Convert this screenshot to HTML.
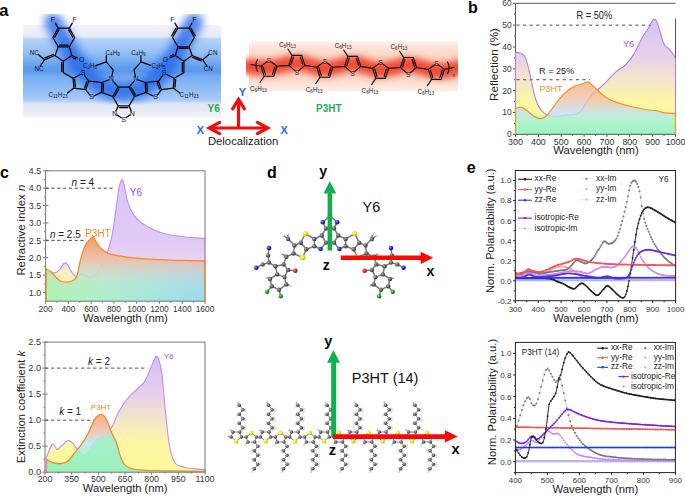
<!DOCTYPE html>
<html><head><meta charset="utf-8"><style>
html,body{margin:0;padding:0;background:#fff;width:685px;height:496px;overflow:hidden}
svg{display:block;font-family:"Liberation Sans",sans-serif}
</style></head><body>
<svg width="685" height="496" viewBox="0 0 685 496" font-family="Liberation Sans, sans-serif">
<defs>
<linearGradient id="y6band" x1="0" y1="25" x2="0" y2="118" gradientUnits="userSpaceOnUse">
<stop offset="0" stop-color="#f2f3fa"/>
<stop offset="0.129" stop-color="#e6eaf6"/>
<stop offset="0.15" stop-color="#b4d2f8"/>
<stop offset="0.27" stop-color="#9cc4f7"/>
<stop offset="0.37" stop-color="#7eb0f3"/>
<stop offset="0.45" stop-color="#629eef"/>
<stop offset="0.5" stop-color="#5a98ee"/>
<stop offset="0.56" stop-color="#78aef2"/>
<stop offset="0.7" stop-color="#92bef5"/>
<stop offset="0.806" stop-color="#a8caf7"/>
<stop offset="0.849" stop-color="#dfe6f5"/>
<stop offset="0.935" stop-color="#e8ebf5"/>
<stop offset="1" stop-color="#f6f6fb"/>
</linearGradient>
<linearGradient id="p3band" x1="0" y1="41.5" x2="0" y2="91.5" gradientUnits="userSpaceOnUse">
<stop offset="0" stop-color="#fdf0ea"/>
<stop offset="0.2" stop-color="#fbdccd"/>
<stop offset="0.5" stop-color="#f9c9b5"/>
<stop offset="0.8" stop-color="#fbdccd"/>
<stop offset="1" stop-color="#fdf0ea"/>
</linearGradient>
<filter id="blur6" filterUnits="userSpaceOnUse" x="0" y="0" width="250" height="140"><feGaussianBlur stdDeviation="4.2"/></filter>
<filter id="blur4" filterUnits="userSpaceOnUse" x="230" y="20" width="250" height="90"><feGaussianBlur stdDeviation="3.3"/></filter>
<clipPath id="y6clip"><rect x="23" y="14" width="198" height="90.5"/></clipPath>
<clipPath id="p3clip"><rect x="246" y="41.5" width="212" height="50"/></clipPath>
</defs>
<rect x="23" y="25" width="198" height="93" fill="url(#y6band)"/>
<g clip-path="url(#y6clip)"><path d="M53,22 C54.17,24 57.33,29.33 60,34 C62.67,38.67 65.83,44.83 69,50 C72.17,55.17 75.17,60.17 79,65 C82.83,69.83 87.33,75 92,79 C96.67,83 101.73,86.83 107,89 C112.27,91.17 118.07,92 123.6,92 C129.13,92 134.93,91.17 140.2,89 C145.47,86.83 150.53,83 155.2,79 C159.87,75 164.37,69.83 168.2,65 C172.03,60.17 175.03,55.17 178.2,50 C181.37,44.83 184.53,38.67 187.2,34 C189.87,29.33 193.03,24 194.2,22" fill="none" stroke="#2265ec" stroke-width="18" stroke-linecap="round" stroke-linejoin="round" opacity="0.8" filter="url(#blur6)"/></g>
<rect x="249" y="41.5" width="209" height="50" fill="url(#p3band)"/>
<g clip-path="url(#p3clip)"><path d="M244,66 C248.17,66.33 260.18,68.58 269,68 C277.82,67.42 287.6,62.35 296.9,62.53 C306.2,62.71 315.5,68.88 324.8,69.06 C334.1,69.24 343.4,63.41 352.7,63.59 C362,63.77 371.3,69.94 380.6,70.12 C389.9,70.3 399.2,64.47 408.5,64.65 C417.8,64.83 428.15,70.62 436.4,71.18 C444.65,71.74 454.4,68.53 458,68" fill="none" stroke="#f0402a" stroke-width="15" stroke-linecap="round" stroke-linejoin="round" opacity="0.92" filter="url(#blur4)"/></g>
<path d="M74.7,37.5L69.3,46.8M172.5,37.5L177.9,46.8M58.3,46.8L52.8,37.5M188.9,46.8L194.4,37.5M58.2,28.1L69.4,28.1M189,28.1L177.8,28.1M58.2,28.1L55.34,23.1M189,28.1L191.86,23.1M69.4,28.1L72.26,23.1M177.8,28.1L174.94,23.1M69.3,46.8L71.9,55.5M177.9,46.8L175.3,55.5M71.9,55.5L63.3,61.3M175.3,55.5L183.9,61.3M63.3,61.3L55,55.5M183.9,61.3L192.2,55.5M55,55.5L58.3,46.8M192.2,55.5L188.9,46.8M44.4,59.8L38.3,54.6M202.8,59.8L208.9,54.6M44.4,59.8L40.3,66M202.8,59.8L206.9,66M63.3,72.6L73.1,78.3M183.9,72.6L174.1,78.3M73.1,78.3L80.5,74.56M174.1,78.3L166.7,74.56M84.65,75.56L88.7,81.1M162.55,75.56L158.5,81.1M85.8,89.6L73.9,88.1M161.4,89.6L173.3,88.1M73.9,88.1L67.5,93.1M173.3,88.1L179.7,93.1M85.8,89.6L89.83,95.05M161.4,89.6L157.37,95.05M94.01,96.06L101.4,92.4M153.19,96.06L145.8,92.4M102,82.5L88.7,81.1M145.2,82.5L158.5,81.1M101.4,92.4L112.7,96.5M145.8,92.4L134.5,96.5M118.15,87.1L113.02,81.12M129.05,87.1L134.18,81.12M108.58,80L102,82.5M138.62,80L145.2,82.5M112.7,96.5L118.15,105.9M134.5,96.5L129.05,105.9M118.15,105.9L115.93,110.94M129.05,105.9L131.27,110.94M117.15,115.02L121.25,117.68M130.05,115.02L125.95,117.68M111.79,76.26L113.2,69.8M135.41,76.26L134,69.8M113.2,69.8L106.3,61.8M134,69.8L140.9,61.8M106.3,61.8L96.5,65.4M140.9,61.8L150.7,65.4M106.3,61.8L106.3,55.6M140.9,61.8L140.9,55.6M69.3,46.8L58.3,46.8M68.1,45.2L59.5,45.2M177.9,46.8L188.9,46.8M179.1,48.4L187.7,48.4M52.8,37.5L58.2,28.1M54.79,37.26L58.99,29.94M194.4,37.5L189,28.1M195.19,35.66L190.99,28.34M69.4,28.1L74.7,37.5M68.6,29.93L72.72,37.24M177.8,28.1L172.5,37.5M175.82,28.36L171.7,35.67M71.9,55.5L77.23,57.92M72.33,57.45L75.48,58.88M175.3,55.5L169.97,57.92M173.55,54.54L170.4,55.97M55,55.5L44.4,59.8M53.29,54.47L44.91,57.87M192.2,55.5L202.8,59.8M192.71,57.43L201.09,60.83M63.3,61.3L63.3,72.6M61.7,62.5L61.7,71.4M183.9,61.3L183.9,72.6M182.3,62.5L182.3,71.4M88.7,81.1L85.8,89.6M86.8,81.72L84.67,87.95M158.5,81.1L161.4,89.6M157.37,82.75L159.5,88.98M73.9,88.1L73.1,78.3M75.4,86.77L74.79,79.37M173.3,88.1L174.1,78.3M174.99,87.03L175.6,79.63M101.4,92.4L102,82.5M103.07,91.3L103.52,83.79M145.8,92.4L145.2,82.5M147.32,91.11L146.87,83.6M112.7,96.5L118.15,87.1M114.69,96.26L118.93,88.94M134.5,96.5L129.05,87.1M135.28,94.66L131.04,87.34M118.15,87.1L129.05,87.1M118.15,105.9L129.05,105.9M119.35,107.5L127.85,107.5" stroke="#050505" stroke-width="1.25" fill="none" stroke-linecap="round"/>
<g fill="#111"><text x="52.8" y="22" font-size="7" text-anchor="middle">F</text><text x="74.7" y="22" font-size="7" text-anchor="middle">F</text><text x="194.4" y="22" font-size="7" text-anchor="middle">F</text><text x="172.5" y="22" font-size="7" text-anchor="middle">F</text><text x="81.8" y="62" font-size="7" text-anchor="middle">O</text><text x="165.4" y="62" font-size="7" text-anchor="middle">O</text><text x="83.2" y="75.2" font-size="7" text-anchor="middle">S</text><text x="164" y="75.2" font-size="7" text-anchor="middle">S</text><text x="91.6" y="99.4" font-size="7" text-anchor="middle">S</text><text x="155.6" y="99.4" font-size="7" text-anchor="middle">S</text><text x="111.2" y="81.2" font-size="7" text-anchor="middle">N</text><text x="136" y="81.2" font-size="7" text-anchor="middle">N</text><text x="114.8" y="115.7" font-size="7" text-anchor="middle">N</text><text x="132.4" y="115.7" font-size="7" text-anchor="middle">N</text><text x="123.6" y="121.6" font-size="7" text-anchor="middle">S</text><text x="34.3" y="55" font-size="6.3" text-anchor="middle">NC</text><text x="39" y="71" font-size="6.3" text-anchor="middle">NC</text><text x="212.9" y="55" font-size="6.3" text-anchor="middle">CN</text><text x="208.2" y="71" font-size="6.3" text-anchor="middle">CN</text><text x="48.5" y="97" font-size="6.3">C<tspan font-size="4.6" dy="1">11</tspan><tspan dy="-1">H</tspan><tspan font-size="4.6" dy="1">23</tspan></text><text x="179.6" y="97" font-size="6.3">C<tspan font-size="4.6" dy="1">11</tspan><tspan dy="-1">H</tspan><tspan font-size="4.6" dy="1">23</tspan></text><text x="82.9" y="67.8" font-size="6.3">C<tspan font-size="4.6" dy="1">2</tspan><tspan dy="-1">H</tspan><tspan font-size="4.6" dy="1">5</tspan></text><text x="151.4" y="67.8" font-size="6.3">C<tspan font-size="4.6" dy="1">2</tspan><tspan dy="-1">H</tspan><tspan font-size="4.6" dy="1">5</tspan></text><text x="105.5" y="55" font-size="6.3">C<tspan font-size="4.6" dy="1">4</tspan><tspan dy="-1">H</tspan><tspan font-size="4.6" dy="1">9</tspan></text><text x="131.3" y="55" font-size="6.3">C<tspan font-size="4.6" dy="1">4</tspan><tspan dy="-1">H</tspan><tspan font-size="4.6" dy="1">9</tspan></text></g>
<path d="M267.24,61.52L261,66.2M261,66.2L264.2,76.2M264.2,76.2L273.8,76.2M273.8,76.2L277,66.2M277,66.2L270.76,61.52M263.06,66.9L265.47,74.43M272.53,74.43L274.94,66.9M264.2,76.2L260,82.5M295.24,70.88L288.9,65.33M288.9,65.33L292.1,55.33M292.1,55.33L301.7,55.33M301.7,55.33L304.9,65.33M304.9,65.33L298.56,70.88M290.96,64.63L293.37,57.1M300.43,57.1L302.84,64.63M292.1,55.33L287.9,49.03M323.04,62.58L316.8,67.26M316.8,67.26L320,77.26M320,77.26L329.6,77.26M329.6,77.26L332.8,67.26M332.8,67.26L326.56,62.58M318.86,67.96L321.27,75.49M328.33,75.49L330.74,67.96M320,77.26L315.8,83.56M351.04,71.94L344.7,66.39M344.7,66.39L347.9,56.39M347.9,56.39L357.5,56.39M357.5,56.39L360.7,66.39M360.7,66.39L354.36,71.94M346.76,65.69L349.17,58.16M356.23,58.16L358.64,65.69M347.9,56.39L343.7,50.09M378.84,63.64L372.6,68.32M372.6,68.32L375.8,78.32M375.8,78.32L385.4,78.32M385.4,78.32L388.6,68.32M388.6,68.32L382.36,63.64M374.66,69.03L377.07,76.55M384.13,76.55L386.54,69.03M375.8,78.32L371.6,84.62M406.84,73L400.5,67.45M400.5,67.45L403.7,57.45M403.7,57.45L413.3,57.45M413.3,57.45L416.5,67.45M416.5,67.45L410.16,73M402.56,66.75L404.97,59.22M412.03,59.22L414.44,66.75M403.7,57.45L399.5,51.15M434.64,64.7L428.4,69.38M428.4,69.38L431.6,79.38M431.6,79.38L441.2,79.38M441.2,79.38L444.4,69.38M444.4,69.38L438.16,64.7M430.46,70.09L432.87,77.61M439.93,77.61L442.34,70.09M431.6,79.38L427.4,85.68M277,66.2L288.9,65.33M304.9,65.33L316.8,67.26M332.8,67.26L344.7,66.39M360.7,66.39L372.6,68.32M388.6,68.32L400.5,67.45M416.5,67.45L428.4,69.38M261,66.2L251,64.5M444.4,69.38L454,67.5M257.5,59.5 Q254.2,65.3 257.5,71.2M447.5,62 Q450.8,67.8 447.5,73.6" stroke="#111" stroke-width="1.15" fill="none" stroke-linecap="round"/>
<g fill="#222"><text x="269" y="62.6" font-size="6.4" text-anchor="middle">S</text><text x="250" y="91" font-size="6.3">C<tspan font-size="4.6" dy="1">6</tspan><tspan dy="-1">H</tspan><tspan font-size="4.6" dy="1">13</tspan></text><text x="296.9" y="74.73" font-size="6.4" text-anchor="middle">S</text><text x="278.9" y="47.03" font-size="6.3">C<tspan font-size="4.6" dy="1">6</tspan><tspan dy="-1">H</tspan><tspan font-size="4.6" dy="1">13</tspan></text><text x="324.8" y="63.66" font-size="6.4" text-anchor="middle">S</text><text x="305.8" y="92.06" font-size="6.3">C<tspan font-size="4.6" dy="1">6</tspan><tspan dy="-1">H</tspan><tspan font-size="4.6" dy="1">13</tspan></text><text x="352.7" y="75.79" font-size="6.4" text-anchor="middle">S</text><text x="334.7" y="48.09" font-size="6.3">C<tspan font-size="4.6" dy="1">6</tspan><tspan dy="-1">H</tspan><tspan font-size="4.6" dy="1">13</tspan></text><text x="380.6" y="64.72" font-size="6.4" text-anchor="middle">S</text><text x="361.6" y="93.12" font-size="6.3">C<tspan font-size="4.6" dy="1">6</tspan><tspan dy="-1">H</tspan><tspan font-size="4.6" dy="1">13</tspan></text><text x="408.5" y="76.85" font-size="6.4" text-anchor="middle">S</text><text x="390.5" y="49.15" font-size="6.3">C<tspan font-size="4.6" dy="1">6</tspan><tspan dy="-1">H</tspan><tspan font-size="4.6" dy="1">13</tspan></text><text x="436.4" y="65.78" font-size="6.4" text-anchor="middle">S</text><text x="417.4" y="94.18" font-size="6.3">C<tspan font-size="4.6" dy="1">6</tspan><tspan dy="-1">H</tspan><tspan font-size="4.6" dy="1">13</tspan></text><text x="452.5" y="76.5" font-size="4.5">n</text></g>
<path d="M238.5,128 L238.5,100" stroke="#f20d0d" stroke-width="3.2" fill="none"/>
<path d="M232.6,108.8 L238.5,99.2 L244.4,108.8" stroke="#f20d0d" stroke-width="3.2" fill="none" stroke-linecap="round" stroke-linejoin="miter"/>
<path d="M209.5,128 L267.5,128" stroke="#f20d0d" stroke-width="3.2" fill="none"/>
<path d="M219.6,122.4 L209.2,128 L219.6,133.6" stroke="#f20d0d" stroke-width="3.2" fill="none" stroke-linecap="round"/>
<path d="M257.4,122.4 L267.8,128 L257.4,133.6" stroke="#f20d0d" stroke-width="3.2" fill="none" stroke-linecap="round"/>
<g font-weight="bold" fill="#1a6cf5" font-size="10.9"><text x="242.4" y="95.6" text-anchor="middle">Y</text><text x="200.4" y="134.2" text-anchor="middle">X</text><text x="284.2" y="134.2" text-anchor="middle">X</text></g>
<text x="243.1" y="145" font-size="11.3" text-anchor="middle" fill="#222">Delocalization</text>
<g font-weight="bold" fill="#1fae4e" font-size="10"><text x="213.6" y="111.5" text-anchor="middle">Y6</text><text x="328.8" y="111.5" text-anchor="middle">P3HT</text></g>
<text x="-0.8" y="15.6" font-size="16.6" font-weight="bold">a</text>
<defs>
<linearGradient id="bY6" x1="0" y1="20" x2="0" y2="134.3" gradientUnits="userSpaceOnUse">
<stop offset="0" stop-color="#d8c2f4"/><stop offset="0.3" stop-color="#e4d0ee"/><stop offset="0.55" stop-color="#f6e8c8"/>
<stop offset="0.7" stop-color="#fff5a6"/><stop offset="0.8" stop-color="#fcf8a2"/><stop offset="0.9" stop-color="#b4f4c4"/><stop offset="1" stop-color="#98f4c0"/></linearGradient>
<linearGradient id="bP3" x1="0" y1="82" x2="0" y2="134.3" gradientUnits="userSpaceOnUse">
<stop offset="0" stop-color="#f6ad80"/><stop offset="0.3" stop-color="#f0c0a8"/><stop offset="0.6" stop-color="#bfe2f2"/>
<stop offset="0.72" stop-color="#b0f2d4"/><stop offset="1" stop-color="#9af5c0"/></linearGradient>
</defs>
<path d="M515.5,52.22 C516.46,52.45 519.62,52.69 521.29,53.63 C522.96,54.57 524.11,54.57 525.52,57.86 C526.93,61.15 528.35,67.5 529.76,73.38 C531.17,79.26 532.58,87.73 533.99,93.14 C535.4,98.55 536.58,102.55 538.22,105.84 C539.87,109.14 541.99,111.25 543.87,112.9 C545.75,114.55 547.4,115.16 549.51,115.72 C551.63,116.29 553.75,116.38 556.57,116.29 C559.39,116.19 563.39,115.49 566.45,115.16 C569.51,114.83 572.56,114.92 574.92,114.31 C577.27,113.7 578.68,113.37 580.56,111.49 C582.44,109.61 584.32,105.84 586.21,103.02 C588.09,100.2 589.5,97.14 591.85,94.55 C594.2,91.97 597.5,90.08 600.32,87.5 C603.14,84.91 605.96,81.85 608.79,79.03 C611.61,76.21 614.43,72.91 617.25,70.56 C620.08,68.21 622.9,67.74 625.72,64.92 C628.54,62.09 631.37,58.33 634.19,53.63 C637.01,48.92 640.3,40.93 642.66,36.69 C645.01,32.46 646.65,30.95 648.3,28.22 C649.95,25.5 651.36,21.73 652.53,20.32 C653.71,18.91 654.42,18.91 655.36,19.76 C656.3,20.6 656.77,21.4 658.18,25.4 C659.59,29.4 661.94,39.75 663.82,43.75 C665.71,47.75 667.52,47.04 669.47,49.39 C671.42,51.75 674.49,56.45 675.5,57.86 L675.5,134.3 L515.5,134.3 Z" fill="url(#bY6)"/>
<path d="M516.5,25.13H651 M516.5,79.72H590" stroke="#444" stroke-width="0.95" stroke-dasharray="3.1,3.5" fill="none"/>
<path d="M515.5,52.22 C516.46,52.45 519.62,52.69 521.29,53.63 C522.96,54.57 524.11,54.57 525.52,57.86 C526.93,61.15 528.35,67.5 529.76,73.38 C531.17,79.26 532.58,87.73 533.99,93.14 C535.4,98.55 536.58,102.55 538.22,105.84 C539.87,109.14 541.99,111.25 543.87,112.9 C545.75,114.55 547.4,115.16 549.51,115.72 C551.63,116.29 553.75,116.38 556.57,116.29 C559.39,116.19 563.39,115.49 566.45,115.16 C569.51,114.83 572.56,114.92 574.92,114.31 C577.27,113.7 578.68,113.37 580.56,111.49 C582.44,109.61 584.32,105.84 586.21,103.02 C588.09,100.2 589.5,97.14 591.85,94.55 C594.2,91.97 597.5,90.08 600.32,87.5 C603.14,84.91 605.96,81.85 608.79,79.03 C611.61,76.21 614.43,72.91 617.25,70.56 C620.08,68.21 622.9,67.74 625.72,64.92 C628.54,62.09 631.37,58.33 634.19,53.63 C637.01,48.92 640.3,40.93 642.66,36.69 C645.01,32.46 646.65,30.95 648.3,28.22 C649.95,25.5 651.36,21.73 652.53,20.32 C653.71,18.91 654.42,18.91 655.36,19.76 C656.3,20.6 656.77,21.4 658.18,25.4 C659.59,29.4 661.94,39.75 663.82,43.75 C665.71,47.75 667.52,47.04 669.47,49.39 C671.42,51.75 674.49,56.45 675.5,57.86" stroke="#b07ee6" stroke-width="1.1" fill="none"/>
<path d="M515.5,108.66 C516.23,108.43 518.44,107.25 519.88,107.25 C521.31,107.25 522.47,107.72 524.11,108.66 C525.76,109.61 527.88,111.49 529.76,112.9 C531.64,114.31 533.52,116.19 535.4,117.13 C537.28,118.07 539.17,118.78 541.05,118.54 C542.93,118.31 544.81,117.37 546.69,115.72 C548.57,114.07 550.22,111.49 552.34,108.66 C554.45,105.84 557.04,101.61 559.39,98.79 C561.75,95.96 563.86,93.85 566.45,91.73 C569.04,89.61 572.33,87.36 574.92,86.09 C577.5,84.82 579.86,84.82 581.97,84.11 C584.09,83.4 585.97,81.76 587.62,81.85 C589.26,81.95 590.21,83.26 591.85,84.67 C593.5,86.09 595.14,88.2 597.5,90.32 C599.85,92.44 603.14,95.49 605.96,97.38 C608.79,99.26 611.61,100.43 614.43,101.61 C617.25,102.78 619.61,103.49 622.9,104.43 C626.19,105.37 630.43,106.41 634.19,107.25 C637.95,108.1 641.72,108.9 645.48,109.51 C649.24,110.12 653.48,110.36 656.77,110.92 C660.06,111.49 662.11,112.48 665.24,112.9 C668.36,113.32 673.79,113.37 675.5,113.46 L675.5,134.3 L515.5,134.3 Z" fill="url(#bP3)" opacity="0.8"/>
<path d="M515.5,108.66 C516.23,108.43 518.44,107.25 519.88,107.25 C521.31,107.25 522.47,107.72 524.11,108.66 C525.76,109.61 527.88,111.49 529.76,112.9 C531.64,114.31 533.52,116.19 535.4,117.13 C537.28,118.07 539.17,118.78 541.05,118.54 C542.93,118.31 544.81,117.37 546.69,115.72 C548.57,114.07 550.22,111.49 552.34,108.66 C554.45,105.84 557.04,101.61 559.39,98.79 C561.75,95.96 563.86,93.85 566.45,91.73 C569.04,89.61 572.33,87.36 574.92,86.09 C577.5,84.82 579.86,84.82 581.97,84.11 C584.09,83.4 585.97,81.76 587.62,81.85 C589.26,81.95 590.21,83.26 591.85,84.67 C593.5,86.09 595.14,88.2 597.5,90.32 C599.85,92.44 603.14,95.49 605.96,97.38 C608.79,99.26 611.61,100.43 614.43,101.61 C617.25,102.78 619.61,103.49 622.9,104.43 C626.19,105.37 630.43,106.41 634.19,107.25 C637.95,108.1 641.72,108.9 645.48,109.51 C649.24,110.12 653.48,110.36 656.77,110.92 C660.06,111.49 662.11,112.48 665.24,112.9 C668.36,113.32 673.79,113.37 675.5,113.46" stroke="#f59022" stroke-width="1.2" fill="none"/>
<path d="M515.5,134.3v2.6M538.36,134.3v2.6M561.21,134.3v2.6M584.07,134.3v2.6M606.93,134.3v2.6M629.79,134.3v2.6M652.64,134.3v2.6M675.5,134.3v2.6M526.93,134.3v1.5M549.79,134.3v1.5M572.64,134.3v1.5M595.5,134.3v1.5M618.36,134.3v1.5M641.21,134.3v1.5M664.07,134.3v1.5M515.5,134.3h-2.6M515.5,112.47h-2.6M515.5,90.63h-2.6M515.5,68.8h-2.6M515.5,46.97h-2.6M515.5,25.13h-2.6M515.5,3.3h-2.6M515.5,123.38h-1.5M515.5,101.55h-1.5M515.5,79.72h-1.5M515.5,57.88h-1.5M515.5,36.05h-1.5M515.5,14.22h-1.5" stroke="#555" stroke-width="1" fill="none"/>
<g font-size="8.9" fill="#333"><text x="515.5" y="145.1" text-anchor="middle">300</text><text x="538.36" y="145.1" text-anchor="middle">400</text><text x="561.21" y="145.1" text-anchor="middle">500</text><text x="584.07" y="145.1" text-anchor="middle">600</text><text x="606.93" y="145.1" text-anchor="middle">700</text><text x="629.79" y="145.1" text-anchor="middle">800</text><text x="652.64" y="145.1" text-anchor="middle">900</text><text x="675.5" y="145.1" text-anchor="middle">1000</text></g>
<g font-size="8.4" fill="#333"><text x="511.6" y="137.31" text-anchor="end">0</text><text x="511.6" y="115.47" text-anchor="end">10</text><text x="511.6" y="93.64" text-anchor="end">20</text><text x="511.6" y="71.81" text-anchor="end">30</text><text x="511.6" y="49.97" text-anchor="end">40</text><text x="511.6" y="28.14" text-anchor="end">50</text><text x="511.6" y="6.31" text-anchor="end">60</text></g>
<path d="M515.5,134.3V3.3H675.5 M515.5,134.3H675.5 M675.5,18.5V57.86" stroke="#555" stroke-width="1" fill="none"/>
<path d="M515.5,52.22V108.66 M675.5,57.86V113.46" stroke="#b07ee6" stroke-width="1.1"/>
<path d="M515.5,108.66V134.3 M675.5,113.46V134.3" stroke="#f59022" stroke-width="1.2"/>
<text x="596" y="153.8" font-size="11.3" text-anchor="middle" fill="#222">Wavelength (nm)</text>
<text transform="translate(497.8,64.5) rotate(-90)" font-size="11.6" text-anchor="middle" fill="#222">Reflection (%)</text>
<text x="576.6" y="18.9" font-size="10" fill="#222" textLength="35.6" lengthAdjust="spacingAndGlyphs">R = 50%</text>
<text x="539.1" y="74" font-size="9.8" fill="#222" textLength="35.2" lengthAdjust="spacingAndGlyphs">R = 25%</text>
<text x="539.4" y="91.5" font-size="9.1" fill="#f7941d">P3HT</text>
<text x="622.9" y="46.6" font-size="9.3" fill="#9a4fe6">Y6</text>
<text x="468" y="12.9" font-size="16" font-weight="bold">b</text>
<defs>
<linearGradient id="cY6" x1="0" y1="180" x2="0" y2="301" gradientUnits="userSpaceOnUse">
<stop offset="0" stop-color="#dcc4f8"/><stop offset="0.5" stop-color="#e0caf6"/><stop offset="0.68" stop-color="#ecd4ee"/><stop offset="0.76" stop-color="#faf0c0"/><stop offset="1" stop-color="#f6f2b4"/></linearGradient>
<linearGradient id="cP3v" x1="0" y1="237" x2="0" y2="301" gradientUnits="userSpaceOnUse">
<stop offset="0" stop-color="#f59a62" stop-opacity="1"/><stop offset="0.35" stop-color="#f3bca8" stop-opacity="0.9"/><stop offset="0.65" stop-color="#eecfd0" stop-opacity="0.3"/><stop offset="1" stop-color="#e0e0e0" stop-opacity="0"/></linearGradient>
<linearGradient id="cP3h" x1="45" y1="0" x2="204" y2="0" gradientUnits="userSpaceOnUse">
<stop offset="0" stop-color="#9cf7a8"/><stop offset="0.35" stop-color="#a0f0d0"/><stop offset="1" stop-color="#88d8fa"/></linearGradient>
<clipPath id="cclip"><rect x="45.6" y="170" width="158.4" height="131.2"/></clipPath>
</defs>
<path d="M45.6,301.2v-2.8M68.37,301.2v-2.8M91.14,301.2v-2.8M113.91,301.2v-2.8M136.69,301.2v-2.8M159.46,301.2v-2.8M182.23,301.2v-2.8M205,301.2v-2.8M45.6,292.51h2.8M45.6,275.12h2.8M45.6,257.73h2.8M45.6,240.35h2.8M45.6,222.96h2.8M45.6,205.57h2.8M45.6,188.19h2.8M45.6,170.8h2.8" stroke="#777" stroke-width="1" fill="none"/>
<path d="M46.1,276.55 C46.5,276.08 47.61,274.53 48.47,273.73 C49.34,272.93 50.12,271.89 51.3,271.75 C52.47,271.61 54.12,273.26 55.53,272.88 C56.94,272.5 58.36,271.09 59.77,269.49 C61.18,267.89 62.83,264.22 64,263.28 C65.18,262.34 65.65,262.57 66.83,263.84 C68.01,265.11 69.65,268.88 71.06,270.9 C72.48,272.93 73.89,275.28 75.3,275.99 C76.71,276.69 78.36,275.51 79.54,275.14 C80.71,274.76 81.18,273.59 82.36,273.73 C83.54,273.87 85.18,275.28 86.6,275.99 C88.01,276.69 89.42,278.1 90.83,277.96 C92.25,277.82 93.42,277.02 95.07,275.14 C96.72,273.26 98.83,269.96 100.72,266.67 C102.6,263.37 104.48,260.55 106.37,255.37 C108.25,250.19 110.37,243.6 112.01,235.6 C113.66,227.6 115.07,215.36 116.25,207.36 C117.43,199.36 118.13,192.21 119.07,187.59 C120.02,182.98 121.05,180.16 121.9,179.69 C122.74,179.21 123.22,181.1 124.16,184.77 C125.1,188.44 126.04,196.77 127.55,201.71 C129.05,206.65 130.84,210.89 133.19,214.42 C135.55,217.95 138.37,220.4 141.67,222.89 C144.96,225.39 148.73,227.51 152.96,229.39 C157.2,231.27 162.38,233.01 167.08,234.19 C171.79,235.37 176.5,235.84 181.2,236.45 C185.91,237.06 191.36,237.53 195.32,237.86 C199.29,238.19 203.39,238.33 205,238.43 L205,301.2 L46.1,301.2 Z" fill="url(#cY6)"/>
<path d="M45.6,188.19H115 M45.6,240.35H86" stroke="#333" stroke-width="0.9" stroke-dasharray="3.2,2.6" fill="none"/>
<path d="M46.1,276.55 C46.5,276.08 47.61,274.53 48.47,273.73 C49.34,272.93 50.12,271.89 51.3,271.75 C52.47,271.61 54.12,273.26 55.53,272.88 C56.94,272.5 58.36,271.09 59.77,269.49 C61.18,267.89 62.83,264.22 64,263.28 C65.18,262.34 65.65,262.57 66.83,263.84 C68.01,265.11 69.65,268.88 71.06,270.9 C72.48,272.93 73.89,275.28 75.3,275.99 C76.71,276.69 78.36,275.51 79.54,275.14 C80.71,274.76 81.18,273.59 82.36,273.73 C83.54,273.87 85.18,275.28 86.6,275.99 C88.01,276.69 89.42,278.1 90.83,277.96 C92.25,277.82 93.42,277.02 95.07,275.14 C96.72,273.26 98.83,269.96 100.72,266.67 C102.6,263.37 104.48,260.55 106.37,255.37 C108.25,250.19 110.37,243.6 112.01,235.6 C113.66,227.6 115.07,215.36 116.25,207.36 C117.43,199.36 118.13,192.21 119.07,187.59 C120.02,182.98 121.05,180.16 121.9,179.69 C122.74,179.21 123.22,181.1 124.16,184.77 C125.1,188.44 126.04,196.77 127.55,201.71 C129.05,206.65 130.84,210.89 133.19,214.42 C135.55,217.95 138.37,220.4 141.67,222.89 C144.96,225.39 148.73,227.51 152.96,229.39 C157.2,231.27 162.38,233.01 167.08,234.19 C171.79,235.37 176.5,235.84 181.2,236.45 C185.91,237.06 191.36,237.53 195.32,237.86 C199.29,238.19 203.39,238.33 205,238.43" stroke="#c08ef0" stroke-width="1.1" fill="none"/>
<path d="M46.1,268.93 C46.73,269.25 48.55,269.87 49.88,270.9 C51.22,271.94 52.47,273.49 54.12,275.14 C55.77,276.79 57.65,279.61 59.77,280.79 C61.89,281.96 64.71,282.2 66.83,282.2 C68.95,282.2 70.83,281.73 72.48,280.79 C74.12,279.85 75.3,280.32 76.71,276.55 C78.12,272.78 79.54,263.37 80.95,258.19 C82.36,253.02 83.77,248.55 85.18,245.49 C86.6,242.43 88.1,241.25 89.42,239.84 C90.74,238.43 91.92,236.54 93.09,237.01 C94.27,237.48 95.21,240.78 96.48,242.66 C97.75,244.54 98.83,246.57 100.72,248.31 C102.6,250.05 104.72,251.84 107.78,253.11 C110.84,254.38 114.37,255.09 119.07,255.93 C123.78,256.78 129.43,257.58 136.02,258.19 C142.61,258.81 151.08,259.23 158.61,259.61 C166.14,259.98 173.47,260.22 181.2,260.45 C188.93,260.69 201.03,260.92 205,261.02 L205,301.2 L46.1,301.2 Z" fill="url(#cP3h)" opacity="0.85"/>
<path d="M46.1,268.93 C46.73,269.25 48.55,269.87 49.88,270.9 C51.22,271.94 52.47,273.49 54.12,275.14 C55.77,276.79 57.65,279.61 59.77,280.79 C61.89,281.96 64.71,282.2 66.83,282.2 C68.95,282.2 70.83,281.73 72.48,280.79 C74.12,279.85 75.3,280.32 76.71,276.55 C78.12,272.78 79.54,263.37 80.95,258.19 C82.36,253.02 83.77,248.55 85.18,245.49 C86.6,242.43 88.1,241.25 89.42,239.84 C90.74,238.43 91.92,236.54 93.09,237.01 C94.27,237.48 95.21,240.78 96.48,242.66 C97.75,244.54 98.83,246.57 100.72,248.31 C102.6,250.05 104.72,251.84 107.78,253.11 C110.84,254.38 114.37,255.09 119.07,255.93 C123.78,256.78 129.43,257.58 136.02,258.19 C142.61,258.81 151.08,259.23 158.61,259.61 C166.14,259.98 173.47,260.22 181.2,260.45 C188.93,260.69 201.03,260.92 205,261.02 L205,301.2 L46.1,301.2 Z" fill="url(#cP3v)"/>
<path d="M46.1,268.93 C46.73,269.25 48.55,269.87 49.88,270.9 C51.22,271.94 52.47,273.49 54.12,275.14 C55.77,276.79 57.65,279.61 59.77,280.79 C61.89,281.96 64.71,282.2 66.83,282.2 C68.95,282.2 70.83,281.73 72.48,280.79 C74.12,279.85 75.3,280.32 76.71,276.55 C78.12,272.78 79.54,263.37 80.95,258.19 C82.36,253.02 83.77,248.55 85.18,245.49 C86.6,242.43 88.1,241.25 89.42,239.84 C90.74,238.43 91.92,236.54 93.09,237.01 C94.27,237.48 95.21,240.78 96.48,242.66 C97.75,244.54 98.83,246.57 100.72,248.31 C102.6,250.05 104.72,251.84 107.78,253.11 C110.84,254.38 114.37,255.09 119.07,255.93 C123.78,256.78 129.43,257.58 136.02,258.19 C142.61,258.81 151.08,259.23 158.61,259.61 C166.14,259.98 173.47,260.22 181.2,260.45 C188.93,260.69 201.03,260.92 205,261.02" stroke="#f58a2a" stroke-width="1.3" fill="none"/>
<rect x="45.6" y="170.8" width="159.4" height="130.4" fill="none" stroke="#777" stroke-width="1"/>
<path d="M45.6,301.2v2.6M68.37,301.2v2.6M91.14,301.2v2.6M113.91,301.2v2.6M136.69,301.2v2.6M159.46,301.2v2.6M182.23,301.2v2.6M205,301.2v2.6M56.99,301.2v1.5M79.76,301.2v1.5M102.53,301.2v1.5M125.3,301.2v1.5M148.07,301.2v1.5M170.84,301.2v1.5M193.61,301.2v1.5M45.6,292.51h-2.6M45.6,275.12h-2.6M45.6,257.73h-2.6M45.6,240.35h-2.6M45.6,222.96h-2.6M45.6,205.57h-2.6M45.6,188.19h-2.6M45.6,170.8h-2.6M45.6,283.81h-1.5M45.6,266.43h-1.5M45.6,249.04h-1.5M45.6,231.65h-1.5M45.6,214.27h-1.5M45.6,196.88h-1.5M45.6,179.49h-1.5" stroke="#777" stroke-width="1" fill="none"/>
<g font-size="8.4" fill="#333"><text x="45.6" y="311.6" text-anchor="middle">200</text><text x="68.37" y="311.6" text-anchor="middle">400</text><text x="91.14" y="311.6" text-anchor="middle">600</text><text x="113.91" y="311.6" text-anchor="middle">800</text><text x="136.69" y="311.6" text-anchor="middle">1000</text><text x="159.46" y="311.6" text-anchor="middle">1200</text><text x="182.23" y="311.6" text-anchor="middle">1400</text><text x="205" y="311.6" text-anchor="middle">1600</text></g>
<g font-size="8.9" fill="#333"><text x="41.2" y="295.69" text-anchor="end">1.0</text><text x="41.2" y="278.31" text-anchor="end">1.5</text><text x="41.2" y="260.92" text-anchor="end">2.0</text><text x="41.2" y="243.53" text-anchor="end">2.5</text><text x="41.2" y="226.15" text-anchor="end">3.0</text><text x="41.2" y="208.76" text-anchor="end">3.5</text><text x="41.2" y="191.37" text-anchor="end">4.0</text><text x="41.2" y="173.99" text-anchor="end">4.5</text></g>
<path d="M46.1,268.93V301.2" stroke="#f58a2a" stroke-width="1.2"/>
<path d="M205,238.43V261.02" stroke="#c08ef0" stroke-width="1.1"/>
<path d="M205,261.02V301.2" stroke="#f58a2a" stroke-width="1.2"/>
<text x="125.4" y="322" font-size="11.2" text-anchor="middle" fill="#222">Wavelength (nm)</text>
<text transform="translate(25.4,230.2) rotate(-90)" font-size="11.35" text-anchor="middle" fill="#222">Refractive index <tspan font-style="italic">n</tspan></text>
<text x="71.6" y="185.8" font-size="10" fill="#222"><tspan font-style="italic">n</tspan> = 4</text>
<text x="49.9" y="237.6" font-size="10" fill="#222"><tspan font-style="italic">n</tspan> = 2.5</text>
<text x="85.2" y="237.2" font-size="10" fill="#f58a2a">P3HT</text>
<text x="129.8" y="196" font-size="10" fill="#9a4fe6">Y6</text>
<text x="0" y="177.8" font-size="16" font-weight="bold">c</text>
<defs>
<linearGradient id="dY6" x1="0" y1="356" x2="0" y2="472" gradientUnits="userSpaceOnUse">
<stop offset="0" stop-color="#d8bdf4"/><stop offset="0.3" stop-color="#e4cdef"/><stop offset="0.55" stop-color="#f3e6c8"/><stop offset="0.75" stop-color="#fef6a6"/><stop offset="1" stop-color="#fef89c"/></linearGradient>
<linearGradient id="dP3" x1="0" y1="415" x2="0" y2="472" gradientUnits="userSpaceOnUse">
<stop offset="0" stop-color="#f5a170"/><stop offset="0.3" stop-color="#eec0b0"/><stop offset="0.5" stop-color="#b8e6ee"/><stop offset="0.65" stop-color="#a4eed4"/><stop offset="1" stop-color="#98f2bc"/></linearGradient>
<linearGradient id="dG" x1="0" y1="430" x2="0" y2="472" gradientUnits="userSpaceOnUse">
<stop offset="0" stop-color="#a6eecc"/><stop offset="1" stop-color="#98f2bc"/></linearGradient>
</defs>
<path d="M45,472.2v-2.8M71.67,472.2v-2.8M98.33,472.2v-2.8M125,472.2v-2.8M151.67,472.2v-2.8M178.33,472.2v-2.8M205,472.2v-2.8M45,472.2h2.8M45,446.18h2.8M45,420.16h2.8M45,394.14h2.8M45,368.12h2.8M45,342.1h2.8" stroke="#777" stroke-width="1" fill="none"/>
<path d="M45.6,459.26 C46.08,458.08 47.43,454.65 48.47,452.2 C49.52,449.75 50.92,445.75 51.86,444.57 C52.8,443.4 53.27,444.34 54.12,445.14 C54.97,445.94 56,449 56.94,449.37 C57.89,449.75 58.83,448.1 59.77,447.4 C60.71,446.69 61.42,446.22 62.59,445.14 C63.77,444.06 65.42,441.47 66.83,440.9 C68.24,440.34 69.65,440.81 71.06,441.75 C72.48,442.69 73.89,444.81 75.3,446.55 C76.71,448.29 78.12,450.79 79.54,452.2 C80.95,453.61 82.36,455.02 83.77,455.02 C85.18,455.02 86.6,453.85 88.01,452.2 C89.42,450.55 90.6,447.35 92.25,445.14 C93.89,442.93 95.78,440.43 97.89,438.93 C100.01,437.42 102.6,438.13 104.95,436.1 C107.31,434.08 109.66,430.92 112.01,426.78 C114.37,422.64 116.48,415.96 119.07,411.25 C121.66,406.54 124.72,402.07 127.55,398.54 C130.37,395.01 133.19,392.89 136.02,390.07 C138.84,387.25 141.9,385.6 144.49,381.6 C147.08,377.6 149.67,370.21 151.55,366.06 C153.43,361.92 154.61,357.92 155.79,356.75 C156.96,355.57 157.58,356.04 158.61,359 C159.65,361.97 160.82,365.36 162,374.54 C163.18,383.72 164.35,401.84 165.67,414.07 C166.99,426.31 168.26,439.73 169.91,447.96 C171.55,456.2 173.2,460.29 175.55,463.49 C177.91,466.7 180.73,466.27 184.03,467.17 C187.32,468.06 191.83,468.44 195.32,468.86 C198.82,469.28 203.39,469.57 205,469.71 L205,472.2 L45.6,472.2 Z" fill="url(#dY6)"/>
<path d="M45,368.12H147.3 M45,420.16H95" stroke="#555" stroke-width="1" stroke-dasharray="3.4,2.6" fill="none"/>
<path d="M45.6,459.26 C46.08,458.08 47.43,454.65 48.47,452.2 C49.52,449.75 50.92,445.75 51.86,444.57 C52.8,443.4 53.27,444.34 54.12,445.14 C54.97,445.94 56,449 56.94,449.37 C57.89,449.75 58.83,448.1 59.77,447.4 C60.71,446.69 61.42,446.22 62.59,445.14 C63.77,444.06 65.42,441.47 66.83,440.9 C68.24,440.34 69.65,440.81 71.06,441.75 C72.48,442.69 73.89,444.81 75.3,446.55 C76.71,448.29 78.12,450.79 79.54,452.2 C80.95,453.61 82.36,455.02 83.77,455.02 C85.18,455.02 86.6,453.85 88.01,452.2 C89.42,450.55 90.6,447.35 92.25,445.14 C93.89,442.93 95.78,440.43 97.89,438.93 C100.01,437.42 102.6,438.13 104.95,436.1 C107.31,434.08 109.66,430.92 112.01,426.78 C114.37,422.64 116.48,415.96 119.07,411.25 C121.66,406.54 124.72,402.07 127.55,398.54 C130.37,395.01 133.19,392.89 136.02,390.07 C138.84,387.25 141.9,385.6 144.49,381.6 C147.08,377.6 149.67,370.21 151.55,366.06 C153.43,361.92 154.61,357.92 155.79,356.75 C156.96,355.57 157.58,356.04 158.61,359 C159.65,361.97 160.82,365.36 162,374.54 C163.18,383.72 164.35,401.84 165.67,414.07 C166.99,426.31 168.26,439.73 169.91,447.96 C171.55,456.2 173.2,460.29 175.55,463.49 C177.91,466.7 180.73,466.27 184.03,467.17 C187.32,468.06 191.83,468.44 195.32,468.86 C198.82,469.28 203.39,469.57 205,469.71" stroke="#c08ef0" stroke-width="1.1" fill="none"/>
<path d="M46.5,459.26 C47.3,459.73 49.56,461.38 51.3,462.08 C53.04,462.79 55.06,463.26 56.94,463.49 C58.83,463.73 60.71,463.97 62.59,463.49 C64.48,463.02 66.36,462.32 68.24,460.67 C70.12,459.02 71.77,456.2 73.89,453.61 C76.01,451.02 78.6,448.43 80.95,445.14 C83.3,441.84 85.89,437.84 88.01,433.84 C90.13,429.84 91.77,424.29 93.66,421.13 C95.54,417.98 97.66,415.86 99.31,414.92 C100.95,413.98 102.13,414.21 103.54,415.49 C104.95,416.76 106.37,419.49 107.78,422.55 C109.19,425.61 110.6,430.55 112.01,433.84 C113.43,437.14 114.84,438.55 116.25,442.31 C117.66,446.08 119.07,452.67 120.49,456.43 C121.9,460.2 122.6,462.79 124.72,464.91 C126.84,467.02 128.49,468.2 133.19,469.14 C137.9,470.08 140.99,470.23 152.96,470.55 C164.93,470.88 196.33,471.03 205,471.12 L205,472.2 L46.5,472.2 Z" fill="url(#dP3)" opacity="0.85"/>
<clipPath id="dclipY6"><path d="M45.6,459.26 C46.08,458.08 47.43,454.65 48.47,452.2 C49.52,449.75 50.92,445.75 51.86,444.57 C52.8,443.4 53.27,444.34 54.12,445.14 C54.97,445.94 56,449 56.94,449.37 C57.89,449.75 58.83,448.1 59.77,447.4 C60.71,446.69 61.42,446.22 62.59,445.14 C63.77,444.06 65.42,441.47 66.83,440.9 C68.24,440.34 69.65,440.81 71.06,441.75 C72.48,442.69 73.89,444.81 75.3,446.55 C76.71,448.29 78.12,450.79 79.54,452.2 C80.95,453.61 82.36,455.02 83.77,455.02 C85.18,455.02 86.6,453.85 88.01,452.2 C89.42,450.55 90.6,447.35 92.25,445.14 C93.89,442.93 95.78,440.43 97.89,438.93 C100.01,437.42 102.6,438.13 104.95,436.1 C107.31,434.08 109.66,430.92 112.01,426.78 C114.37,422.64 116.48,415.96 119.07,411.25 C121.66,406.54 124.72,402.07 127.55,398.54 C130.37,395.01 133.19,392.89 136.02,390.07 C138.84,387.25 141.9,385.6 144.49,381.6 C147.08,377.6 149.67,370.21 151.55,366.06 C153.43,361.92 154.61,357.92 155.79,356.75 C156.96,355.57 157.58,356.04 158.61,359 C159.65,361.97 160.82,365.36 162,374.54 C163.18,383.72 164.35,401.84 165.67,414.07 C166.99,426.31 168.26,439.73 169.91,447.96 C171.55,456.2 173.2,460.29 175.55,463.49 C177.91,466.7 180.73,466.27 184.03,467.17 C187.32,468.06 191.83,468.44 195.32,468.86 C198.82,469.28 203.39,469.57 205,469.71 L205,472.2 L45.6,472.2 Z"/></clipPath>
<path d="M46.5,459.26 C47.3,459.73 49.56,461.38 51.3,462.08 C53.04,462.79 55.06,463.26 56.94,463.49 C58.83,463.73 60.71,463.97 62.59,463.49 C64.48,463.02 66.36,462.32 68.24,460.67 C70.12,459.02 71.77,456.2 73.89,453.61 C76.01,451.02 78.6,448.43 80.95,445.14 C83.3,441.84 85.89,437.84 88.01,433.84 C90.13,429.84 91.77,424.29 93.66,421.13 C95.54,417.98 97.66,415.86 99.31,414.92 C100.95,413.98 102.13,414.21 103.54,415.49 C104.95,416.76 106.37,419.49 107.78,422.55 C109.19,425.61 110.6,430.55 112.01,433.84 C113.43,437.14 114.84,438.55 116.25,442.31 C117.66,446.08 119.07,452.67 120.49,456.43 C121.9,460.2 122.6,462.79 124.72,464.91 C126.84,467.02 128.49,468.2 133.19,469.14 C137.9,470.08 140.99,470.23 152.96,470.55 C164.93,470.88 196.33,471.03 205,471.12 L205,472.2 L46.5,472.2 Z" fill="url(#dG)" opacity="0.85" clip-path="url(#dclipY6)"/>
<path d="M46.5,459.26 C47.3,459.73 49.56,461.38 51.3,462.08 C53.04,462.79 55.06,463.26 56.94,463.49 C58.83,463.73 60.71,463.97 62.59,463.49 C64.48,463.02 66.36,462.32 68.24,460.67 C70.12,459.02 71.77,456.2 73.89,453.61 C76.01,451.02 78.6,448.43 80.95,445.14 C83.3,441.84 85.89,437.84 88.01,433.84 C90.13,429.84 91.77,424.29 93.66,421.13 C95.54,417.98 97.66,415.86 99.31,414.92 C100.95,413.98 102.13,414.21 103.54,415.49 C104.95,416.76 106.37,419.49 107.78,422.55 C109.19,425.61 110.6,430.55 112.01,433.84 C113.43,437.14 114.84,438.55 116.25,442.31 C117.66,446.08 119.07,452.67 120.49,456.43 C121.9,460.2 122.6,462.79 124.72,464.91 C126.84,467.02 128.49,468.2 133.19,469.14 C137.9,470.08 140.99,470.23 152.96,470.55 C164.93,470.88 196.33,471.03 205,471.12" stroke="#f58a2a" stroke-width="1.3" fill="none"/>
<rect x="45" y="342.1" width="160" height="130.1" fill="none" stroke="#777" stroke-width="1"/>
<path d="M45,472.2v2.6M71.67,472.2v2.6M98.33,472.2v2.6M125,472.2v2.6M151.67,472.2v2.6M178.33,472.2v2.6M205,472.2v2.6M58.33,472.2v1.5M85,472.2v1.5M111.67,472.2v1.5M138.33,472.2v1.5M165,472.2v1.5M191.67,472.2v1.5M45,472.2h-2.6M45,446.18h-2.6M45,420.16h-2.6M45,394.14h-2.6M45,368.12h-2.6M45,342.1h-2.6M45,459.19h-1.5M45,433.17h-1.5M45,407.15h-1.5M45,381.13h-1.5M45,355.11h-1.5" stroke="#777" stroke-width="1" fill="none"/>
<g font-size="8.8" fill="#333"><text x="45" y="482.4" text-anchor="middle">200</text><text x="71.67" y="482.4" text-anchor="middle">350</text><text x="98.33" y="482.4" text-anchor="middle">500</text><text x="125" y="482.4" text-anchor="middle">650</text><text x="151.67" y="482.4" text-anchor="middle">800</text><text x="178.33" y="482.4" text-anchor="middle">950</text><text x="205" y="482.4" text-anchor="middle">1100</text></g>
<g font-size="9.2" fill="#333"><text x="41.1" y="475.49" text-anchor="end">0.0</text><text x="41.1" y="449.47" text-anchor="end">0.5</text><text x="41.1" y="423.45" text-anchor="end">1.0</text><text x="41.1" y="397.43" text-anchor="end">1.5</text><text x="41.1" y="371.41" text-anchor="end">2.0</text><text x="41.1" y="345.39" text-anchor="end">2.5</text></g>
<path d="M45.6,459.26V472.2" stroke="#c08ef0" stroke-width="1.1"/>
<path d="M46.5,459.26V472.2" stroke="#f58a2a" stroke-width="1.1"/>
<text x="125.2" y="491.8" font-size="11.2" text-anchor="middle" fill="#222">Wavelength (nm)</text>
<text transform="translate(25.1,407) rotate(-90)" font-size="11.4" text-anchor="middle" fill="#222">Extinction coefficient <tspan font-style="italic">k</tspan></text>
<text x="88" y="365.4" font-size="10" fill="#222"><tspan font-style="italic">k</tspan> = 2</text>
<text x="59.2" y="415.4" font-size="10" fill="#222"><tspan font-style="italic">k</tspan> = 1</text>
<text x="90.8" y="410" font-size="8" fill="#f58a2a">P3HT</text>
<text x="163.7" y="359.2" font-size="8" fill="#9a4fe6">Y6</text>
<defs>
<radialGradient id="gC" cx="0.35" cy="0.35" r="0.7"><stop offset="0" stop-color="#b0b0b0"/><stop offset="0.55" stop-color="#606060"/><stop offset="1" stop-color="#303030"/></radialGradient>
<radialGradient id="gS" cx="0.35" cy="0.35" r="0.7"><stop offset="0" stop-color="#ffffa0"/><stop offset="0.6" stop-color="#f2e20c"/><stop offset="1" stop-color="#b8a800"/></radialGradient>
<radialGradient id="gN" cx="0.35" cy="0.35" r="0.7"><stop offset="0" stop-color="#8090ff"/><stop offset="0.6" stop-color="#1020d8"/><stop offset="1" stop-color="#0a1290"/></radialGradient>
<radialGradient id="gO" cx="0.35" cy="0.35" r="0.7"><stop offset="0" stop-color="#ff9090"/><stop offset="0.6" stop-color="#e01010"/><stop offset="1" stop-color="#900000"/></radialGradient>
<radialGradient id="gF" cx="0.35" cy="0.35" r="0.7"><stop offset="0" stop-color="#80e080"/><stop offset="0.6" stop-color="#169c16"/><stop offset="1" stop-color="#0a600a"/></radialGradient>
<radialGradient id="gH" cx="0.35" cy="0.35" r="0.7"><stop offset="0" stop-color="#ffffff"/><stop offset="0.7" stop-color="#d8d8d8"/><stop offset="1" stop-color="#9a9a9a"/></radialGradient>
</defs>
<path d="M322.8,222.3L326,228.4M337.2,222.3L334,228.4M326,228.4L321.8,235.5M334,228.4L338.2,235.5M321.8,235.5L326,242.6M338.2,235.5L334,242.6M326,242.6L320.6,249M334,242.6L339.4,249M320.6,249L314.4,246.3M339.4,249L345.6,246.3M314.4,246.3L314.4,239M345.6,246.3L345.6,239M314.4,239L321.8,235.5M345.6,239L338.2,235.5M314.4,239L305.3,233.6M345.6,239L354.7,233.6M305.3,233.6L300.8,242.7M354.7,233.6L359.2,242.7M300.8,242.7L306.3,249.2M359.2,242.7L353.7,249.2M306.3,249.2L314.4,246.3M353.7,249.2L345.6,246.3M306.3,249.2L302.6,257.5M353.7,249.2L357.4,257.5M302.6,257.5L293.5,253.5M357.4,257.5L366.5,253.5M293.5,253.5L294.5,245.4M366.5,253.5L365.5,245.4M294.5,245.4L300.8,242.7M365.5,245.4L359.2,242.7M294.5,245.4L288.1,239M365.5,245.4L371.9,239M288.1,239L283.6,235.6M371.9,239L376.4,235.6M288.1,239L287.5,234.2M371.9,239L372.5,234.2M293.5,253.5L286.3,256.8M366.5,253.5L373.7,256.8M286.3,256.8L281.8,253.6M373.7,256.8L378.2,253.6M286.3,256.8L283.6,264.4M373.7,256.8L376.4,264.4M283.6,264.4L288.1,269.9M376.4,264.4L371.9,269.9M288.1,269.9L284.5,277.1M371.9,269.9L375.5,277.1M284.5,277.1L277.2,274.4M375.5,277.1L382.8,274.4M277.2,274.4L275.4,266.3M382.8,274.4L384.6,266.3M275.4,266.3L283.6,264.4M384.6,266.3L376.4,264.4M288.1,269.9L295.4,270.8M371.9,269.9L364.6,270.8M275.4,266.3L269,262.6M384.6,266.3L391,262.6M269,262.6L268.1,255.4M391,262.6L391.9,255.4M268.1,255.4L269,248.1M391.9,255.4L391,248.1M269,262.6L262.7,264.4M391,262.6L397.3,264.4M262.7,264.4L256.4,267.7M397.3,264.4L403.6,267.7M284.5,277.1L286.3,284.4M375.5,277.1L373.7,284.4M286.3,284.4L279,289.8M373.7,284.4L381,289.8M279,289.8L271.8,286.2M381,289.8L388.2,286.2M271.8,286.2L270,279M388.2,286.2L390,279M270,279L277.2,274.4M390,279L382.8,274.4M271.8,286.2L267.2,291.7M388.2,286.2L392.8,291.7M279,289.8L280.8,296.2M381,289.8L379.2,296.2M270,279L266.2,277.6M390,279L393.8,277.6M286.3,284.4L290.6,285.8M373.7,284.4L369.4,285.8M329.8,215.6L322.8,222.3M329.8,215.6L337.2,222.3M326,228.4L334,228.4M326,242.6L334,242.6M322.8,222.3L326,228.4M337.2,222.3L334,228.4" stroke="#7c7c7c" stroke-width="1.5" fill="none"/><circle cx="329.8" cy="215.6" r="2.7" fill="url(#gS)"/><circle cx="322.8" cy="222.3" r="2.3" fill="url(#gN)"/><circle cx="337.2" cy="222.3" r="2.3" fill="url(#gN)"/><circle cx="326" cy="228.4" r="2.2" fill="url(#gC)"/><circle cx="334" cy="228.4" r="2.2" fill="url(#gC)"/><circle cx="321.8" cy="235.5" r="2.2" fill="url(#gC)"/><circle cx="338.2" cy="235.5" r="2.2" fill="url(#gC)"/><circle cx="326" cy="242.6" r="2.2" fill="url(#gC)"/><circle cx="334" cy="242.6" r="2.2" fill="url(#gC)"/><circle cx="320.6" cy="249" r="2.3" fill="url(#gN)"/><circle cx="339.4" cy="249" r="2.3" fill="url(#gN)"/><circle cx="314.4" cy="246.3" r="2.2" fill="url(#gC)"/><circle cx="345.6" cy="246.3" r="2.2" fill="url(#gC)"/><circle cx="314.4" cy="239" r="2.2" fill="url(#gC)"/><circle cx="345.6" cy="239" r="2.2" fill="url(#gC)"/><circle cx="305.3" cy="233.6" r="2.7" fill="url(#gS)"/><circle cx="354.7" cy="233.6" r="2.7" fill="url(#gS)"/><circle cx="306.3" cy="249.2" r="2.2" fill="url(#gC)"/><circle cx="353.7" cy="249.2" r="2.2" fill="url(#gC)"/><circle cx="300.8" cy="242.7" r="2.2" fill="url(#gC)"/><circle cx="359.2" cy="242.7" r="2.2" fill="url(#gC)"/><circle cx="302.6" cy="257.5" r="2.7" fill="url(#gS)"/><circle cx="357.4" cy="257.5" r="2.7" fill="url(#gS)"/><circle cx="294.5" cy="245.4" r="2.2" fill="url(#gC)"/><circle cx="365.5" cy="245.4" r="2.2" fill="url(#gC)"/><circle cx="293.5" cy="253.5" r="2.2" fill="url(#gC)"/><circle cx="366.5" cy="253.5" r="2.2" fill="url(#gC)"/><circle cx="288.1" cy="239" r="2.2" fill="url(#gC)"/><circle cx="371.9" cy="239" r="2.2" fill="url(#gC)"/><circle cx="283.6" cy="235.6" r="1.2" fill="url(#gH)"/><circle cx="376.4" cy="235.6" r="1.2" fill="url(#gH)"/><circle cx="287.5" cy="234.2" r="1.2" fill="url(#gH)"/><circle cx="372.5" cy="234.2" r="1.2" fill="url(#gH)"/><circle cx="286.3" cy="256.8" r="2.2" fill="url(#gC)"/><circle cx="373.7" cy="256.8" r="2.2" fill="url(#gC)"/><circle cx="281.8" cy="253.6" r="1.2" fill="url(#gH)"/><circle cx="378.2" cy="253.6" r="1.2" fill="url(#gH)"/><circle cx="283.6" cy="264.4" r="2.2" fill="url(#gC)"/><circle cx="376.4" cy="264.4" r="2.2" fill="url(#gC)"/><circle cx="288.1" cy="269.9" r="2.2" fill="url(#gC)"/><circle cx="371.9" cy="269.9" r="2.2" fill="url(#gC)"/><circle cx="284.5" cy="277.1" r="2.2" fill="url(#gC)"/><circle cx="375.5" cy="277.1" r="2.2" fill="url(#gC)"/><circle cx="277.2" cy="274.4" r="2.2" fill="url(#gC)"/><circle cx="382.8" cy="274.4" r="2.2" fill="url(#gC)"/><circle cx="275.4" cy="266.3" r="2.2" fill="url(#gC)"/><circle cx="384.6" cy="266.3" r="2.2" fill="url(#gC)"/><circle cx="295.4" cy="270.8" r="2.2" fill="url(#gO)"/><circle cx="364.6" cy="270.8" r="2.2" fill="url(#gO)"/><circle cx="269" cy="262.6" r="2.2" fill="url(#gC)"/><circle cx="391" cy="262.6" r="2.2" fill="url(#gC)"/><circle cx="268.1" cy="255.4" r="2.2" fill="url(#gC)"/><circle cx="391.9" cy="255.4" r="2.2" fill="url(#gC)"/><circle cx="269" cy="248.1" r="2.3" fill="url(#gN)"/><circle cx="391" cy="248.1" r="2.3" fill="url(#gN)"/><circle cx="262.7" cy="264.4" r="2.2" fill="url(#gC)"/><circle cx="397.3" cy="264.4" r="2.2" fill="url(#gC)"/><circle cx="256.4" cy="267.7" r="2.3" fill="url(#gN)"/><circle cx="403.6" cy="267.7" r="2.3" fill="url(#gN)"/><circle cx="286.3" cy="284.4" r="2.2" fill="url(#gC)"/><circle cx="373.7" cy="284.4" r="2.2" fill="url(#gC)"/><circle cx="279" cy="289.8" r="2.2" fill="url(#gC)"/><circle cx="381" cy="289.8" r="2.2" fill="url(#gC)"/><circle cx="271.8" cy="286.2" r="2.2" fill="url(#gC)"/><circle cx="388.2" cy="286.2" r="2.2" fill="url(#gC)"/><circle cx="270" cy="279" r="2.2" fill="url(#gC)"/><circle cx="390" cy="279" r="2.2" fill="url(#gC)"/><circle cx="267.2" cy="291.7" r="2.2" fill="url(#gF)"/><circle cx="392.8" cy="291.7" r="2.2" fill="url(#gF)"/><circle cx="280.8" cy="296.2" r="2.2" fill="url(#gF)"/><circle cx="379.2" cy="296.2" r="2.2" fill="url(#gF)"/><circle cx="266.2" cy="277.6" r="1.2" fill="url(#gH)"/><circle cx="393.8" cy="277.6" r="1.2" fill="url(#gH)"/><circle cx="290.6" cy="285.8" r="1.2" fill="url(#gH)"/><circle cx="369.4" cy="285.8" r="1.2" fill="url(#gH)"/>
<path d="M327.6,250.6V193.6H323.5L329.8,181.1L336.2,193.6H332.1V250.6Z" fill="#12b04c"/>
<path d="M340.8,255.6V260H420.7V264L433.2,257.8L420.7,251.7V255.6Z" fill="#fc0606"/>
<g font-weight="bold" font-size="14.2" fill="#0a0a0a"><text x="319.2" y="176.2">y</text><text x="322.8" y="270.1">z</text><text x="426.5" y="275.9">x</text></g>
<text x="362.6" y="211.6" font-size="14.4" fill="#111">Y6</text>
<text x="267" y="177.8" font-size="16" font-weight="bold">d</text>
<path d="M236.3,441.2L231.1,437M231.1,437L232.9,432M232.9,432L239.7,432M239.7,432L241.5,437M241.5,437L236.3,441.2M232.9,432L230.1,429.4M239.7,432L242.9,427.7M242.9,427.7L245.3,428.7M242.9,427.7L245,426.5M242.9,427.7L239.3,423.2M239.3,423.2L236.9,424.2M239.3,423.2L237.2,422M239.3,423.2L242.9,418.7M242.9,418.7L245.3,419.7M242.9,418.7L245,417.5M242.9,418.7L239.3,414.2M239.3,414.2L236.9,415.2M239.3,414.2L237.2,413M239.3,414.2L242.9,409.7M242.9,409.7L245.3,410.7M242.9,409.7L245,408.5M242.9,409.7L239.3,405.2M239.3,405.2L236.9,406.2M239.3,405.2L237.2,404M239.3,405.2L237.3,402M251.3,432.8L246.1,437M246.1,437L247.9,442M247.9,442L254.7,442M254.7,442L256.5,437M256.5,437L251.3,432.8M247.9,442L245.1,444.6M254.7,442L257.9,446.3M257.9,446.3L260.3,445.3M257.9,446.3L260,447.5M257.9,446.3L254.3,450.8M254.3,450.8L251.9,449.8M254.3,450.8L252.2,452M254.3,450.8L257.9,455.3M257.9,455.3L260.3,454.3M257.9,455.3L260,456.5M257.9,455.3L254.3,459.8M254.3,459.8L251.9,458.8M254.3,459.8L252.2,461M254.3,459.8L257.9,464.3M257.9,464.3L260.3,463.3M257.9,464.3L260,465.5M257.9,464.3L254.3,468.8M254.3,468.8L251.9,467.8M254.3,468.8L252.2,470M254.3,468.8L252.3,472M265.58,441.2L260.38,437M260.38,437L262.18,432M262.18,432L268.98,432M268.98,432L270.78,437M270.78,437L265.58,441.2M262.18,432L259.38,429.4M268.98,432L272.18,427.7M272.18,427.7L274.58,428.7M272.18,427.7L274.28,426.5M272.18,427.7L268.58,423.2M268.58,423.2L266.18,424.2M268.58,423.2L266.48,422M268.58,423.2L272.18,418.7M272.18,418.7L274.58,419.7M272.18,418.7L274.28,417.5M272.18,418.7L268.58,414.2M268.58,414.2L266.18,415.2M268.58,414.2L266.48,413M268.58,414.2L272.18,409.7M272.18,409.7L274.58,410.7M272.18,409.7L274.28,408.5M272.18,409.7L268.58,405.2M268.58,405.2L266.18,406.2M268.58,405.2L266.48,404M268.58,405.2L266.58,402M280.58,432.8L275.38,437M275.38,437L277.18,442M277.18,442L283.98,442M283.98,442L285.78,437M285.78,437L280.58,432.8M277.18,442L274.38,444.6M283.98,442L287.18,446.3M287.18,446.3L289.58,445.3M287.18,446.3L289.28,447.5M287.18,446.3L283.58,450.8M283.58,450.8L281.18,449.8M283.58,450.8L281.48,452M283.58,450.8L287.18,455.3M287.18,455.3L289.58,454.3M287.18,455.3L289.28,456.5M287.18,455.3L283.58,459.8M283.58,459.8L281.18,458.8M283.58,459.8L281.48,461M283.58,459.8L287.18,464.3M287.18,464.3L289.58,463.3M287.18,464.3L289.28,465.5M287.18,464.3L283.58,468.8M283.58,468.8L281.18,467.8M283.58,468.8L281.48,470M283.58,468.8L281.58,472M294.86,441.2L289.66,437M289.66,437L291.46,432M291.46,432L298.26,432M298.26,432L300.06,437M300.06,437L294.86,441.2M291.46,432L288.66,429.4M298.26,432L301.46,427.7M301.46,427.7L303.86,428.7M301.46,427.7L303.56,426.5M301.46,427.7L297.86,423.2M297.86,423.2L295.46,424.2M297.86,423.2L295.76,422M297.86,423.2L301.46,418.7M301.46,418.7L303.86,419.7M301.46,418.7L303.56,417.5M301.46,418.7L297.86,414.2M297.86,414.2L295.46,415.2M297.86,414.2L295.76,413M297.86,414.2L301.46,409.7M301.46,409.7L303.86,410.7M301.46,409.7L303.56,408.5M301.46,409.7L297.86,405.2M297.86,405.2L295.46,406.2M297.86,405.2L295.76,404M297.86,405.2L295.86,402M309.86,432.8L304.66,437M304.66,437L306.46,442M306.46,442L313.26,442M313.26,442L315.06,437M315.06,437L309.86,432.8M306.46,442L303.66,444.6M313.26,442L316.46,446.3M316.46,446.3L318.86,445.3M316.46,446.3L318.56,447.5M316.46,446.3L312.86,450.8M312.86,450.8L310.46,449.8M312.86,450.8L310.76,452M312.86,450.8L316.46,455.3M316.46,455.3L318.86,454.3M316.46,455.3L318.56,456.5M316.46,455.3L312.86,459.8M312.86,459.8L310.46,458.8M312.86,459.8L310.76,461M312.86,459.8L316.46,464.3M316.46,464.3L318.86,463.3M316.46,464.3L318.56,465.5M316.46,464.3L312.86,468.8M312.86,468.8L310.46,467.8M312.86,468.8L310.76,470M312.86,468.8L310.86,472M324.14,441.2L318.94,437M318.94,437L320.74,432M320.74,432L327.54,432M327.54,432L329.34,437M329.34,437L324.14,441.2M320.74,432L317.94,429.4M327.54,432L330.74,427.7M330.74,427.7L333.14,428.7M330.74,427.7L332.84,426.5M330.74,427.7L327.14,423.2M327.14,423.2L324.74,424.2M327.14,423.2L325.04,422M327.14,423.2L330.74,418.7M330.74,418.7L333.14,419.7M330.74,418.7L332.84,417.5M330.74,418.7L327.14,414.2M327.14,414.2L324.74,415.2M327.14,414.2L325.04,413M327.14,414.2L330.74,409.7M330.74,409.7L333.14,410.7M330.74,409.7L332.84,408.5M330.74,409.7L327.14,405.2M327.14,405.2L324.74,406.2M327.14,405.2L325.04,404M327.14,405.2L325.14,402M339.14,432.8L333.94,437M333.94,437L335.74,442M335.74,442L342.54,442M342.54,442L344.34,437M344.34,437L339.14,432.8M335.74,442L332.94,444.6M342.54,442L345.74,446.3M345.74,446.3L348.14,445.3M345.74,446.3L347.84,447.5M345.74,446.3L342.14,450.8M342.14,450.8L339.74,449.8M342.14,450.8L340.04,452M342.14,450.8L345.74,455.3M345.74,455.3L348.14,454.3M345.74,455.3L347.84,456.5M345.74,455.3L342.14,459.8M342.14,459.8L339.74,458.8M342.14,459.8L340.04,461M342.14,459.8L345.74,464.3M345.74,464.3L348.14,463.3M345.74,464.3L347.84,465.5M345.74,464.3L342.14,468.8M342.14,468.8L339.74,467.8M342.14,468.8L340.04,470M342.14,468.8L340.14,472M353.42,441.2L348.22,437M348.22,437L350.02,432M350.02,432L356.82,432M356.82,432L358.62,437M358.62,437L353.42,441.2M350.02,432L347.22,429.4M356.82,432L360.02,427.7M360.02,427.7L362.42,428.7M360.02,427.7L362.12,426.5M360.02,427.7L356.42,423.2M356.42,423.2L354.02,424.2M356.42,423.2L354.32,422M356.42,423.2L360.02,418.7M360.02,418.7L362.42,419.7M360.02,418.7L362.12,417.5M360.02,418.7L356.42,414.2M356.42,414.2L354.02,415.2M356.42,414.2L354.32,413M356.42,414.2L360.02,409.7M360.02,409.7L362.42,410.7M360.02,409.7L362.12,408.5M360.02,409.7L356.42,405.2M356.42,405.2L354.02,406.2M356.42,405.2L354.32,404M356.42,405.2L354.42,402M368.42,432.8L363.22,437M363.22,437L365.02,442M365.02,442L371.82,442M371.82,442L373.62,437M373.62,437L368.42,432.8M365.02,442L362.22,444.6M371.82,442L375.02,446.3M375.02,446.3L377.42,445.3M375.02,446.3L377.12,447.5M375.02,446.3L371.42,450.8M371.42,450.8L369.02,449.8M371.42,450.8L369.32,452M371.42,450.8L375.02,455.3M375.02,455.3L377.42,454.3M375.02,455.3L377.12,456.5M375.02,455.3L371.42,459.8M371.42,459.8L369.02,458.8M371.42,459.8L369.32,461M371.42,459.8L375.02,464.3M375.02,464.3L377.42,463.3M375.02,464.3L377.12,465.5M375.02,464.3L371.42,468.8M371.42,468.8L369.02,467.8M371.42,468.8L369.32,470M371.42,468.8L369.42,472M382.7,441.2L377.5,437M377.5,437L379.3,432M379.3,432L386.1,432M386.1,432L387.9,437M387.9,437L382.7,441.2M379.3,432L376.5,429.4M386.1,432L389.3,427.7M389.3,427.7L391.7,428.7M389.3,427.7L391.4,426.5M389.3,427.7L385.7,423.2M385.7,423.2L383.3,424.2M385.7,423.2L383.6,422M385.7,423.2L389.3,418.7M389.3,418.7L391.7,419.7M389.3,418.7L391.4,417.5M389.3,418.7L385.7,414.2M385.7,414.2L383.3,415.2M385.7,414.2L383.6,413M385.7,414.2L389.3,409.7M389.3,409.7L391.7,410.7M389.3,409.7L391.4,408.5M389.3,409.7L385.7,405.2M385.7,405.2L383.3,406.2M385.7,405.2L383.6,404M385.7,405.2L383.7,402M397.7,432.8L392.5,437M392.5,437L394.3,442M394.3,442L401.1,442M401.1,442L402.9,437M402.9,437L397.7,432.8M394.3,442L391.5,444.6M401.1,442L404.3,446.3M404.3,446.3L406.7,445.3M404.3,446.3L406.4,447.5M404.3,446.3L400.7,450.8M400.7,450.8L398.3,449.8M400.7,450.8L398.6,452M400.7,450.8L404.3,455.3M404.3,455.3L406.7,454.3M404.3,455.3L406.4,456.5M404.3,455.3L400.7,459.8M400.7,459.8L398.3,458.8M400.7,459.8L398.6,461M400.7,459.8L404.3,464.3M404.3,464.3L406.7,463.3M404.3,464.3L406.4,465.5M404.3,464.3L400.7,468.8M400.7,468.8L398.3,467.8M400.7,468.8L398.6,470M400.7,468.8L398.7,472M411.98,441.2L406.78,437M406.78,437L408.58,432M408.58,432L415.38,432M415.38,432L417.18,437M417.18,437L411.98,441.2M408.58,432L405.78,429.4M415.38,432L418.58,427.7M418.58,427.7L420.98,428.7M418.58,427.7L420.68,426.5M418.58,427.7L414.98,423.2M414.98,423.2L412.58,424.2M414.98,423.2L412.88,422M414.98,423.2L418.58,418.7M418.58,418.7L420.98,419.7M418.58,418.7L420.68,417.5M418.58,418.7L414.98,414.2M414.98,414.2L412.58,415.2M414.98,414.2L412.88,413M414.98,414.2L418.58,409.7M418.58,409.7L420.98,410.7M418.58,409.7L420.68,408.5M418.58,409.7L414.98,405.2M414.98,405.2L412.58,406.2M414.98,405.2L412.88,404M414.98,405.2L412.98,402M426.98,432.8L421.78,437M421.78,437L423.58,442M423.58,442L430.38,442M430.38,442L432.18,437M432.18,437L426.98,432.8M423.58,442L420.78,444.6M430.38,442L433.58,446.3M433.58,446.3L435.98,445.3M433.58,446.3L435.68,447.5M433.58,446.3L429.98,450.8M429.98,450.8L427.58,449.8M429.98,450.8L427.88,452M429.98,450.8L433.58,455.3M433.58,455.3L435.98,454.3M433.58,455.3L435.68,456.5M433.58,455.3L429.98,459.8M429.98,459.8L427.58,458.8M429.98,459.8L427.88,461M429.98,459.8L433.58,464.3M433.58,464.3L435.98,463.3M433.58,464.3L435.68,465.5M433.58,464.3L429.98,468.8M429.98,468.8L427.58,467.8M429.98,468.8L427.88,470M429.98,468.8L427.98,472M241.5,437L246.1,437M256.5,437L260.38,437M270.78,437L275.38,437M285.78,437L289.66,437M300.06,437L304.66,437M315.06,437L318.94,437M329.34,437L333.94,437M344.34,437L348.22,437M358.62,437L363.22,437M373.62,437L377.5,437M387.9,437L392.5,437M402.9,437L406.78,437M417.18,437L421.78,437M231.1,437L227.6,436M432.18,437L435.68,438" stroke="#7c7c7c" stroke-width="0.9" fill="none"/><circle cx="236.3" cy="441.2" r="2.21" fill="url(#gS)"/><circle cx="231.1" cy="437" r="1.8" fill="url(#gC)"/><circle cx="232.9" cy="432" r="1.8" fill="url(#gC)"/><circle cx="239.7" cy="432" r="1.8" fill="url(#gC)"/><circle cx="241.5" cy="437" r="1.8" fill="url(#gC)"/><circle cx="230.1" cy="429.4" r="0.98" fill="url(#gH)"/><circle cx="242.9" cy="427.7" r="1.8" fill="url(#gC)"/><circle cx="245.3" cy="428.7" r="0.98" fill="url(#gH)"/><circle cx="245" cy="426.5" r="0.98" fill="url(#gH)"/><circle cx="239.3" cy="423.2" r="1.8" fill="url(#gC)"/><circle cx="236.9" cy="424.2" r="0.98" fill="url(#gH)"/><circle cx="237.2" cy="422" r="0.98" fill="url(#gH)"/><circle cx="242.9" cy="418.7" r="1.8" fill="url(#gC)"/><circle cx="245.3" cy="419.7" r="0.98" fill="url(#gH)"/><circle cx="245" cy="417.5" r="0.98" fill="url(#gH)"/><circle cx="239.3" cy="414.2" r="1.8" fill="url(#gC)"/><circle cx="236.9" cy="415.2" r="0.98" fill="url(#gH)"/><circle cx="237.2" cy="413" r="0.98" fill="url(#gH)"/><circle cx="242.9" cy="409.7" r="1.8" fill="url(#gC)"/><circle cx="245.3" cy="410.7" r="0.98" fill="url(#gH)"/><circle cx="245" cy="408.5" r="0.98" fill="url(#gH)"/><circle cx="239.3" cy="405.2" r="1.8" fill="url(#gC)"/><circle cx="236.9" cy="406.2" r="0.98" fill="url(#gH)"/><circle cx="237.2" cy="404" r="0.98" fill="url(#gH)"/><circle cx="237.3" cy="402" r="0.98" fill="url(#gH)"/><circle cx="251.3" cy="432.8" r="2.21" fill="url(#gS)"/><circle cx="246.1" cy="437" r="1.8" fill="url(#gC)"/><circle cx="247.9" cy="442" r="1.8" fill="url(#gC)"/><circle cx="254.7" cy="442" r="1.8" fill="url(#gC)"/><circle cx="256.5" cy="437" r="1.8" fill="url(#gC)"/><circle cx="245.1" cy="444.6" r="0.98" fill="url(#gH)"/><circle cx="257.9" cy="446.3" r="1.8" fill="url(#gC)"/><circle cx="260.3" cy="445.3" r="0.98" fill="url(#gH)"/><circle cx="260" cy="447.5" r="0.98" fill="url(#gH)"/><circle cx="254.3" cy="450.8" r="1.8" fill="url(#gC)"/><circle cx="251.9" cy="449.8" r="0.98" fill="url(#gH)"/><circle cx="252.2" cy="452" r="0.98" fill="url(#gH)"/><circle cx="257.9" cy="455.3" r="1.8" fill="url(#gC)"/><circle cx="260.3" cy="454.3" r="0.98" fill="url(#gH)"/><circle cx="260" cy="456.5" r="0.98" fill="url(#gH)"/><circle cx="254.3" cy="459.8" r="1.8" fill="url(#gC)"/><circle cx="251.9" cy="458.8" r="0.98" fill="url(#gH)"/><circle cx="252.2" cy="461" r="0.98" fill="url(#gH)"/><circle cx="257.9" cy="464.3" r="1.8" fill="url(#gC)"/><circle cx="260.3" cy="463.3" r="0.98" fill="url(#gH)"/><circle cx="260" cy="465.5" r="0.98" fill="url(#gH)"/><circle cx="254.3" cy="468.8" r="1.8" fill="url(#gC)"/><circle cx="251.9" cy="467.8" r="0.98" fill="url(#gH)"/><circle cx="252.2" cy="470" r="0.98" fill="url(#gH)"/><circle cx="252.3" cy="472" r="0.98" fill="url(#gH)"/><circle cx="265.58" cy="441.2" r="2.21" fill="url(#gS)"/><circle cx="260.38" cy="437" r="1.8" fill="url(#gC)"/><circle cx="262.18" cy="432" r="1.8" fill="url(#gC)"/><circle cx="268.98" cy="432" r="1.8" fill="url(#gC)"/><circle cx="270.78" cy="437" r="1.8" fill="url(#gC)"/><circle cx="259.38" cy="429.4" r="0.98" fill="url(#gH)"/><circle cx="272.18" cy="427.7" r="1.8" fill="url(#gC)"/><circle cx="274.58" cy="428.7" r="0.98" fill="url(#gH)"/><circle cx="274.28" cy="426.5" r="0.98" fill="url(#gH)"/><circle cx="268.58" cy="423.2" r="1.8" fill="url(#gC)"/><circle cx="266.18" cy="424.2" r="0.98" fill="url(#gH)"/><circle cx="266.48" cy="422" r="0.98" fill="url(#gH)"/><circle cx="272.18" cy="418.7" r="1.8" fill="url(#gC)"/><circle cx="274.58" cy="419.7" r="0.98" fill="url(#gH)"/><circle cx="274.28" cy="417.5" r="0.98" fill="url(#gH)"/><circle cx="268.58" cy="414.2" r="1.8" fill="url(#gC)"/><circle cx="266.18" cy="415.2" r="0.98" fill="url(#gH)"/><circle cx="266.48" cy="413" r="0.98" fill="url(#gH)"/><circle cx="272.18" cy="409.7" r="1.8" fill="url(#gC)"/><circle cx="274.58" cy="410.7" r="0.98" fill="url(#gH)"/><circle cx="274.28" cy="408.5" r="0.98" fill="url(#gH)"/><circle cx="268.58" cy="405.2" r="1.8" fill="url(#gC)"/><circle cx="266.18" cy="406.2" r="0.98" fill="url(#gH)"/><circle cx="266.48" cy="404" r="0.98" fill="url(#gH)"/><circle cx="266.58" cy="402" r="0.98" fill="url(#gH)"/><circle cx="280.58" cy="432.8" r="2.21" fill="url(#gS)"/><circle cx="275.38" cy="437" r="1.8" fill="url(#gC)"/><circle cx="277.18" cy="442" r="1.8" fill="url(#gC)"/><circle cx="283.98" cy="442" r="1.8" fill="url(#gC)"/><circle cx="285.78" cy="437" r="1.8" fill="url(#gC)"/><circle cx="274.38" cy="444.6" r="0.98" fill="url(#gH)"/><circle cx="287.18" cy="446.3" r="1.8" fill="url(#gC)"/><circle cx="289.58" cy="445.3" r="0.98" fill="url(#gH)"/><circle cx="289.28" cy="447.5" r="0.98" fill="url(#gH)"/><circle cx="283.58" cy="450.8" r="1.8" fill="url(#gC)"/><circle cx="281.18" cy="449.8" r="0.98" fill="url(#gH)"/><circle cx="281.48" cy="452" r="0.98" fill="url(#gH)"/><circle cx="287.18" cy="455.3" r="1.8" fill="url(#gC)"/><circle cx="289.58" cy="454.3" r="0.98" fill="url(#gH)"/><circle cx="289.28" cy="456.5" r="0.98" fill="url(#gH)"/><circle cx="283.58" cy="459.8" r="1.8" fill="url(#gC)"/><circle cx="281.18" cy="458.8" r="0.98" fill="url(#gH)"/><circle cx="281.48" cy="461" r="0.98" fill="url(#gH)"/><circle cx="287.18" cy="464.3" r="1.8" fill="url(#gC)"/><circle cx="289.58" cy="463.3" r="0.98" fill="url(#gH)"/><circle cx="289.28" cy="465.5" r="0.98" fill="url(#gH)"/><circle cx="283.58" cy="468.8" r="1.8" fill="url(#gC)"/><circle cx="281.18" cy="467.8" r="0.98" fill="url(#gH)"/><circle cx="281.48" cy="470" r="0.98" fill="url(#gH)"/><circle cx="281.58" cy="472" r="0.98" fill="url(#gH)"/><circle cx="294.86" cy="441.2" r="2.21" fill="url(#gS)"/><circle cx="289.66" cy="437" r="1.8" fill="url(#gC)"/><circle cx="291.46" cy="432" r="1.8" fill="url(#gC)"/><circle cx="298.26" cy="432" r="1.8" fill="url(#gC)"/><circle cx="300.06" cy="437" r="1.8" fill="url(#gC)"/><circle cx="288.66" cy="429.4" r="0.98" fill="url(#gH)"/><circle cx="301.46" cy="427.7" r="1.8" fill="url(#gC)"/><circle cx="303.86" cy="428.7" r="0.98" fill="url(#gH)"/><circle cx="303.56" cy="426.5" r="0.98" fill="url(#gH)"/><circle cx="297.86" cy="423.2" r="1.8" fill="url(#gC)"/><circle cx="295.46" cy="424.2" r="0.98" fill="url(#gH)"/><circle cx="295.76" cy="422" r="0.98" fill="url(#gH)"/><circle cx="301.46" cy="418.7" r="1.8" fill="url(#gC)"/><circle cx="303.86" cy="419.7" r="0.98" fill="url(#gH)"/><circle cx="303.56" cy="417.5" r="0.98" fill="url(#gH)"/><circle cx="297.86" cy="414.2" r="1.8" fill="url(#gC)"/><circle cx="295.46" cy="415.2" r="0.98" fill="url(#gH)"/><circle cx="295.76" cy="413" r="0.98" fill="url(#gH)"/><circle cx="301.46" cy="409.7" r="1.8" fill="url(#gC)"/><circle cx="303.86" cy="410.7" r="0.98" fill="url(#gH)"/><circle cx="303.56" cy="408.5" r="0.98" fill="url(#gH)"/><circle cx="297.86" cy="405.2" r="1.8" fill="url(#gC)"/><circle cx="295.46" cy="406.2" r="0.98" fill="url(#gH)"/><circle cx="295.76" cy="404" r="0.98" fill="url(#gH)"/><circle cx="295.86" cy="402" r="0.98" fill="url(#gH)"/><circle cx="309.86" cy="432.8" r="2.21" fill="url(#gS)"/><circle cx="304.66" cy="437" r="1.8" fill="url(#gC)"/><circle cx="306.46" cy="442" r="1.8" fill="url(#gC)"/><circle cx="313.26" cy="442" r="1.8" fill="url(#gC)"/><circle cx="315.06" cy="437" r="1.8" fill="url(#gC)"/><circle cx="303.66" cy="444.6" r="0.98" fill="url(#gH)"/><circle cx="316.46" cy="446.3" r="1.8" fill="url(#gC)"/><circle cx="318.86" cy="445.3" r="0.98" fill="url(#gH)"/><circle cx="318.56" cy="447.5" r="0.98" fill="url(#gH)"/><circle cx="312.86" cy="450.8" r="1.8" fill="url(#gC)"/><circle cx="310.46" cy="449.8" r="0.98" fill="url(#gH)"/><circle cx="310.76" cy="452" r="0.98" fill="url(#gH)"/><circle cx="316.46" cy="455.3" r="1.8" fill="url(#gC)"/><circle cx="318.86" cy="454.3" r="0.98" fill="url(#gH)"/><circle cx="318.56" cy="456.5" r="0.98" fill="url(#gH)"/><circle cx="312.86" cy="459.8" r="1.8" fill="url(#gC)"/><circle cx="310.46" cy="458.8" r="0.98" fill="url(#gH)"/><circle cx="310.76" cy="461" r="0.98" fill="url(#gH)"/><circle cx="316.46" cy="464.3" r="1.8" fill="url(#gC)"/><circle cx="318.86" cy="463.3" r="0.98" fill="url(#gH)"/><circle cx="318.56" cy="465.5" r="0.98" fill="url(#gH)"/><circle cx="312.86" cy="468.8" r="1.8" fill="url(#gC)"/><circle cx="310.46" cy="467.8" r="0.98" fill="url(#gH)"/><circle cx="310.76" cy="470" r="0.98" fill="url(#gH)"/><circle cx="310.86" cy="472" r="0.98" fill="url(#gH)"/><circle cx="324.14" cy="441.2" r="2.21" fill="url(#gS)"/><circle cx="318.94" cy="437" r="1.8" fill="url(#gC)"/><circle cx="320.74" cy="432" r="1.8" fill="url(#gC)"/><circle cx="327.54" cy="432" r="1.8" fill="url(#gC)"/><circle cx="329.34" cy="437" r="1.8" fill="url(#gC)"/><circle cx="317.94" cy="429.4" r="0.98" fill="url(#gH)"/><circle cx="330.74" cy="427.7" r="1.8" fill="url(#gC)"/><circle cx="333.14" cy="428.7" r="0.98" fill="url(#gH)"/><circle cx="332.84" cy="426.5" r="0.98" fill="url(#gH)"/><circle cx="327.14" cy="423.2" r="1.8" fill="url(#gC)"/><circle cx="324.74" cy="424.2" r="0.98" fill="url(#gH)"/><circle cx="325.04" cy="422" r="0.98" fill="url(#gH)"/><circle cx="330.74" cy="418.7" r="1.8" fill="url(#gC)"/><circle cx="333.14" cy="419.7" r="0.98" fill="url(#gH)"/><circle cx="332.84" cy="417.5" r="0.98" fill="url(#gH)"/><circle cx="327.14" cy="414.2" r="1.8" fill="url(#gC)"/><circle cx="324.74" cy="415.2" r="0.98" fill="url(#gH)"/><circle cx="325.04" cy="413" r="0.98" fill="url(#gH)"/><circle cx="330.74" cy="409.7" r="1.8" fill="url(#gC)"/><circle cx="333.14" cy="410.7" r="0.98" fill="url(#gH)"/><circle cx="332.84" cy="408.5" r="0.98" fill="url(#gH)"/><circle cx="327.14" cy="405.2" r="1.8" fill="url(#gC)"/><circle cx="324.74" cy="406.2" r="0.98" fill="url(#gH)"/><circle cx="325.04" cy="404" r="0.98" fill="url(#gH)"/><circle cx="325.14" cy="402" r="0.98" fill="url(#gH)"/><circle cx="339.14" cy="432.8" r="2.21" fill="url(#gS)"/><circle cx="333.94" cy="437" r="1.8" fill="url(#gC)"/><circle cx="335.74" cy="442" r="1.8" fill="url(#gC)"/><circle cx="342.54" cy="442" r="1.8" fill="url(#gC)"/><circle cx="344.34" cy="437" r="1.8" fill="url(#gC)"/><circle cx="332.94" cy="444.6" r="0.98" fill="url(#gH)"/><circle cx="345.74" cy="446.3" r="1.8" fill="url(#gC)"/><circle cx="348.14" cy="445.3" r="0.98" fill="url(#gH)"/><circle cx="347.84" cy="447.5" r="0.98" fill="url(#gH)"/><circle cx="342.14" cy="450.8" r="1.8" fill="url(#gC)"/><circle cx="339.74" cy="449.8" r="0.98" fill="url(#gH)"/><circle cx="340.04" cy="452" r="0.98" fill="url(#gH)"/><circle cx="345.74" cy="455.3" r="1.8" fill="url(#gC)"/><circle cx="348.14" cy="454.3" r="0.98" fill="url(#gH)"/><circle cx="347.84" cy="456.5" r="0.98" fill="url(#gH)"/><circle cx="342.14" cy="459.8" r="1.8" fill="url(#gC)"/><circle cx="339.74" cy="458.8" r="0.98" fill="url(#gH)"/><circle cx="340.04" cy="461" r="0.98" fill="url(#gH)"/><circle cx="345.74" cy="464.3" r="1.8" fill="url(#gC)"/><circle cx="348.14" cy="463.3" r="0.98" fill="url(#gH)"/><circle cx="347.84" cy="465.5" r="0.98" fill="url(#gH)"/><circle cx="342.14" cy="468.8" r="1.8" fill="url(#gC)"/><circle cx="339.74" cy="467.8" r="0.98" fill="url(#gH)"/><circle cx="340.04" cy="470" r="0.98" fill="url(#gH)"/><circle cx="340.14" cy="472" r="0.98" fill="url(#gH)"/><circle cx="353.42" cy="441.2" r="2.21" fill="url(#gS)"/><circle cx="348.22" cy="437" r="1.8" fill="url(#gC)"/><circle cx="350.02" cy="432" r="1.8" fill="url(#gC)"/><circle cx="356.82" cy="432" r="1.8" fill="url(#gC)"/><circle cx="358.62" cy="437" r="1.8" fill="url(#gC)"/><circle cx="347.22" cy="429.4" r="0.98" fill="url(#gH)"/><circle cx="360.02" cy="427.7" r="1.8" fill="url(#gC)"/><circle cx="362.42" cy="428.7" r="0.98" fill="url(#gH)"/><circle cx="362.12" cy="426.5" r="0.98" fill="url(#gH)"/><circle cx="356.42" cy="423.2" r="1.8" fill="url(#gC)"/><circle cx="354.02" cy="424.2" r="0.98" fill="url(#gH)"/><circle cx="354.32" cy="422" r="0.98" fill="url(#gH)"/><circle cx="360.02" cy="418.7" r="1.8" fill="url(#gC)"/><circle cx="362.42" cy="419.7" r="0.98" fill="url(#gH)"/><circle cx="362.12" cy="417.5" r="0.98" fill="url(#gH)"/><circle cx="356.42" cy="414.2" r="1.8" fill="url(#gC)"/><circle cx="354.02" cy="415.2" r="0.98" fill="url(#gH)"/><circle cx="354.32" cy="413" r="0.98" fill="url(#gH)"/><circle cx="360.02" cy="409.7" r="1.8" fill="url(#gC)"/><circle cx="362.42" cy="410.7" r="0.98" fill="url(#gH)"/><circle cx="362.12" cy="408.5" r="0.98" fill="url(#gH)"/><circle cx="356.42" cy="405.2" r="1.8" fill="url(#gC)"/><circle cx="354.02" cy="406.2" r="0.98" fill="url(#gH)"/><circle cx="354.32" cy="404" r="0.98" fill="url(#gH)"/><circle cx="354.42" cy="402" r="0.98" fill="url(#gH)"/><circle cx="368.42" cy="432.8" r="2.21" fill="url(#gS)"/><circle cx="363.22" cy="437" r="1.8" fill="url(#gC)"/><circle cx="365.02" cy="442" r="1.8" fill="url(#gC)"/><circle cx="371.82" cy="442" r="1.8" fill="url(#gC)"/><circle cx="373.62" cy="437" r="1.8" fill="url(#gC)"/><circle cx="362.22" cy="444.6" r="0.98" fill="url(#gH)"/><circle cx="375.02" cy="446.3" r="1.8" fill="url(#gC)"/><circle cx="377.42" cy="445.3" r="0.98" fill="url(#gH)"/><circle cx="377.12" cy="447.5" r="0.98" fill="url(#gH)"/><circle cx="371.42" cy="450.8" r="1.8" fill="url(#gC)"/><circle cx="369.02" cy="449.8" r="0.98" fill="url(#gH)"/><circle cx="369.32" cy="452" r="0.98" fill="url(#gH)"/><circle cx="375.02" cy="455.3" r="1.8" fill="url(#gC)"/><circle cx="377.42" cy="454.3" r="0.98" fill="url(#gH)"/><circle cx="377.12" cy="456.5" r="0.98" fill="url(#gH)"/><circle cx="371.42" cy="459.8" r="1.8" fill="url(#gC)"/><circle cx="369.02" cy="458.8" r="0.98" fill="url(#gH)"/><circle cx="369.32" cy="461" r="0.98" fill="url(#gH)"/><circle cx="375.02" cy="464.3" r="1.8" fill="url(#gC)"/><circle cx="377.42" cy="463.3" r="0.98" fill="url(#gH)"/><circle cx="377.12" cy="465.5" r="0.98" fill="url(#gH)"/><circle cx="371.42" cy="468.8" r="1.8" fill="url(#gC)"/><circle cx="369.02" cy="467.8" r="0.98" fill="url(#gH)"/><circle cx="369.32" cy="470" r="0.98" fill="url(#gH)"/><circle cx="369.42" cy="472" r="0.98" fill="url(#gH)"/><circle cx="382.7" cy="441.2" r="2.21" fill="url(#gS)"/><circle cx="377.5" cy="437" r="1.8" fill="url(#gC)"/><circle cx="379.3" cy="432" r="1.8" fill="url(#gC)"/><circle cx="386.1" cy="432" r="1.8" fill="url(#gC)"/><circle cx="387.9" cy="437" r="1.8" fill="url(#gC)"/><circle cx="376.5" cy="429.4" r="0.98" fill="url(#gH)"/><circle cx="389.3" cy="427.7" r="1.8" fill="url(#gC)"/><circle cx="391.7" cy="428.7" r="0.98" fill="url(#gH)"/><circle cx="391.4" cy="426.5" r="0.98" fill="url(#gH)"/><circle cx="385.7" cy="423.2" r="1.8" fill="url(#gC)"/><circle cx="383.3" cy="424.2" r="0.98" fill="url(#gH)"/><circle cx="383.6" cy="422" r="0.98" fill="url(#gH)"/><circle cx="389.3" cy="418.7" r="1.8" fill="url(#gC)"/><circle cx="391.7" cy="419.7" r="0.98" fill="url(#gH)"/><circle cx="391.4" cy="417.5" r="0.98" fill="url(#gH)"/><circle cx="385.7" cy="414.2" r="1.8" fill="url(#gC)"/><circle cx="383.3" cy="415.2" r="0.98" fill="url(#gH)"/><circle cx="383.6" cy="413" r="0.98" fill="url(#gH)"/><circle cx="389.3" cy="409.7" r="1.8" fill="url(#gC)"/><circle cx="391.7" cy="410.7" r="0.98" fill="url(#gH)"/><circle cx="391.4" cy="408.5" r="0.98" fill="url(#gH)"/><circle cx="385.7" cy="405.2" r="1.8" fill="url(#gC)"/><circle cx="383.3" cy="406.2" r="0.98" fill="url(#gH)"/><circle cx="383.6" cy="404" r="0.98" fill="url(#gH)"/><circle cx="383.7" cy="402" r="0.98" fill="url(#gH)"/><circle cx="397.7" cy="432.8" r="2.21" fill="url(#gS)"/><circle cx="392.5" cy="437" r="1.8" fill="url(#gC)"/><circle cx="394.3" cy="442" r="1.8" fill="url(#gC)"/><circle cx="401.1" cy="442" r="1.8" fill="url(#gC)"/><circle cx="402.9" cy="437" r="1.8" fill="url(#gC)"/><circle cx="391.5" cy="444.6" r="0.98" fill="url(#gH)"/><circle cx="404.3" cy="446.3" r="1.8" fill="url(#gC)"/><circle cx="406.7" cy="445.3" r="0.98" fill="url(#gH)"/><circle cx="406.4" cy="447.5" r="0.98" fill="url(#gH)"/><circle cx="400.7" cy="450.8" r="1.8" fill="url(#gC)"/><circle cx="398.3" cy="449.8" r="0.98" fill="url(#gH)"/><circle cx="398.6" cy="452" r="0.98" fill="url(#gH)"/><circle cx="404.3" cy="455.3" r="1.8" fill="url(#gC)"/><circle cx="406.7" cy="454.3" r="0.98" fill="url(#gH)"/><circle cx="406.4" cy="456.5" r="0.98" fill="url(#gH)"/><circle cx="400.7" cy="459.8" r="1.8" fill="url(#gC)"/><circle cx="398.3" cy="458.8" r="0.98" fill="url(#gH)"/><circle cx="398.6" cy="461" r="0.98" fill="url(#gH)"/><circle cx="404.3" cy="464.3" r="1.8" fill="url(#gC)"/><circle cx="406.7" cy="463.3" r="0.98" fill="url(#gH)"/><circle cx="406.4" cy="465.5" r="0.98" fill="url(#gH)"/><circle cx="400.7" cy="468.8" r="1.8" fill="url(#gC)"/><circle cx="398.3" cy="467.8" r="0.98" fill="url(#gH)"/><circle cx="398.6" cy="470" r="0.98" fill="url(#gH)"/><circle cx="398.7" cy="472" r="0.98" fill="url(#gH)"/><circle cx="411.98" cy="441.2" r="2.21" fill="url(#gS)"/><circle cx="406.78" cy="437" r="1.8" fill="url(#gC)"/><circle cx="408.58" cy="432" r="1.8" fill="url(#gC)"/><circle cx="415.38" cy="432" r="1.8" fill="url(#gC)"/><circle cx="417.18" cy="437" r="1.8" fill="url(#gC)"/><circle cx="405.78" cy="429.4" r="0.98" fill="url(#gH)"/><circle cx="418.58" cy="427.7" r="1.8" fill="url(#gC)"/><circle cx="420.98" cy="428.7" r="0.98" fill="url(#gH)"/><circle cx="420.68" cy="426.5" r="0.98" fill="url(#gH)"/><circle cx="414.98" cy="423.2" r="1.8" fill="url(#gC)"/><circle cx="412.58" cy="424.2" r="0.98" fill="url(#gH)"/><circle cx="412.88" cy="422" r="0.98" fill="url(#gH)"/><circle cx="418.58" cy="418.7" r="1.8" fill="url(#gC)"/><circle cx="420.98" cy="419.7" r="0.98" fill="url(#gH)"/><circle cx="420.68" cy="417.5" r="0.98" fill="url(#gH)"/><circle cx="414.98" cy="414.2" r="1.8" fill="url(#gC)"/><circle cx="412.58" cy="415.2" r="0.98" fill="url(#gH)"/><circle cx="412.88" cy="413" r="0.98" fill="url(#gH)"/><circle cx="418.58" cy="409.7" r="1.8" fill="url(#gC)"/><circle cx="420.98" cy="410.7" r="0.98" fill="url(#gH)"/><circle cx="420.68" cy="408.5" r="0.98" fill="url(#gH)"/><circle cx="414.98" cy="405.2" r="1.8" fill="url(#gC)"/><circle cx="412.58" cy="406.2" r="0.98" fill="url(#gH)"/><circle cx="412.88" cy="404" r="0.98" fill="url(#gH)"/><circle cx="412.98" cy="402" r="0.98" fill="url(#gH)"/><circle cx="426.98" cy="432.8" r="2.21" fill="url(#gS)"/><circle cx="421.78" cy="437" r="1.8" fill="url(#gC)"/><circle cx="423.58" cy="442" r="1.8" fill="url(#gC)"/><circle cx="430.38" cy="442" r="1.8" fill="url(#gC)"/><circle cx="432.18" cy="437" r="1.8" fill="url(#gC)"/><circle cx="420.78" cy="444.6" r="0.98" fill="url(#gH)"/><circle cx="433.58" cy="446.3" r="1.8" fill="url(#gC)"/><circle cx="435.98" cy="445.3" r="0.98" fill="url(#gH)"/><circle cx="435.68" cy="447.5" r="0.98" fill="url(#gH)"/><circle cx="429.98" cy="450.8" r="1.8" fill="url(#gC)"/><circle cx="427.58" cy="449.8" r="0.98" fill="url(#gH)"/><circle cx="427.88" cy="452" r="0.98" fill="url(#gH)"/><circle cx="433.58" cy="455.3" r="1.8" fill="url(#gC)"/><circle cx="435.98" cy="454.3" r="0.98" fill="url(#gH)"/><circle cx="435.68" cy="456.5" r="0.98" fill="url(#gH)"/><circle cx="429.98" cy="459.8" r="1.8" fill="url(#gC)"/><circle cx="427.58" cy="458.8" r="0.98" fill="url(#gH)"/><circle cx="427.88" cy="461" r="0.98" fill="url(#gH)"/><circle cx="433.58" cy="464.3" r="1.8" fill="url(#gC)"/><circle cx="435.98" cy="463.3" r="0.98" fill="url(#gH)"/><circle cx="435.68" cy="465.5" r="0.98" fill="url(#gH)"/><circle cx="429.98" cy="468.8" r="1.8" fill="url(#gC)"/><circle cx="427.58" cy="467.8" r="0.98" fill="url(#gH)"/><circle cx="427.88" cy="470" r="0.98" fill="url(#gH)"/><circle cx="427.98" cy="472" r="0.98" fill="url(#gH)"/><circle cx="227.6" cy="436" r="0.98" fill="url(#gH)"/><circle cx="435.68" cy="438" r="0.98" fill="url(#gH)"/>
<path d="M331.2,437V362.8H327.1L333.4,350.1L340,362.8H336.2V437Z" fill="#12b04c"/>
<path d="M333.1,434.2V439.1H444.9V442.6L457.6,436.5L444.9,430.3V434.2Z" fill="#fc0606"/>
<g font-weight="bold" font-size="14.6" fill="#0a0a0a"><text x="324.3" y="346.3">y</text><text x="328.8" y="454.7">z</text><text x="451.5" y="453.6">x</text></g>
<text x="351.8" y="383.2" font-size="14.5" fill="#111">P3HT (14)</text>
<clipPath id="eclip1"><rect x="515.3" y="170.5" width="160.3" height="130.2"/></clipPath>
<g clip-path="url(#eclip1)"><path d="M515.3,280.2 L676.3,280.2" stroke="#a8b6ff" stroke-width="0.5" fill="none" opacity="0.6"/><path d="M515.3,280.2h0M516.45,280.2h0M517.6,280.2h0M518.75,280.2h0M519.9,280.2h0M521.05,280.2h0M522.2,280.2h0M523.35,280.2h0M524.5,280.2h0M525.65,280.2h0M526.8,280.2h0M527.95,280.2h0M529.1,280.2h0M530.25,280.2h0M531.4,280.2h0M532.55,280.2h0M533.7,280.2h0M534.85,280.2h0M536,280.2h0M537.15,280.2h0M538.3,280.2h0M539.45,280.2h0M540.6,280.2h0M541.75,280.2h0M542.9,280.2h0M544.05,280.2h0M545.2,280.2h0M546.35,280.2h0M547.5,280.2h0M548.65,280.2h0M549.8,280.2h0M550.95,280.2h0M552.1,280.2h0M553.25,280.2h0M554.4,280.2h0M555.55,280.2h0M556.7,280.2h0M557.85,280.2h0M559,280.2h0M560.15,280.2h0M561.3,280.2h0M562.45,280.2h0M563.6,280.2h0M564.75,280.2h0M565.9,280.2h0M567.05,280.2h0M568.2,280.2h0M569.35,280.2h0M570.5,280.2h0M571.65,280.2h0M572.8,280.2h0M573.95,280.2h0M575.1,280.2h0M576.25,280.2h0M577.4,280.2h0M578.55,280.2h0M579.7,280.2h0M580.85,280.2h0M582,280.2h0M583.15,280.2h0M584.3,280.2h0M585.45,280.2h0M586.6,280.2h0M587.75,280.2h0M588.9,280.2h0M590.05,280.2h0M591.2,280.2h0M592.35,280.2h0M593.5,280.2h0M594.65,280.2h0M595.8,280.2h0M596.95,280.2h0M598.1,280.2h0M599.25,280.2h0M600.4,280.2h0M601.55,280.2h0M602.7,280.2h0M603.85,280.2h0M605,280.2h0M606.15,280.2h0M607.3,280.2h0M608.45,280.2h0M609.6,280.2h0M610.75,280.2h0M611.9,280.2h0M613.05,280.2h0M614.2,280.2h0M615.35,280.2h0M616.5,280.2h0M617.65,280.2h0M618.8,280.2h0M619.95,280.2h0M621.1,280.2h0M622.25,280.2h0M623.4,280.2h0M624.55,280.2h0M625.7,280.2h0M626.85,280.2h0M628,280.2h0M629.15,280.2h0M630.3,280.2h0M631.45,280.2h0M632.6,280.2h0M633.75,280.2h0M634.9,280.2h0M636.05,280.2h0M637.2,280.2h0M638.35,280.2h0M639.5,280.2h0M640.65,280.2h0M641.8,280.2h0M642.95,280.2h0M644.1,280.2h0M645.25,280.2h0M646.4,280.2h0M647.55,280.2h0M648.7,280.2h0M649.85,280.2h0M651,280.2h0M652.15,280.2h0M653.3,280.2h0M654.45,280.2h0M655.6,280.2h0M656.75,280.2h0M657.9,280.2h0M659.05,280.2h0M660.2,280.2h0M661.35,280.2h0M662.5,280.2h0M663.65,280.2h0M664.8,280.2h0M665.95,280.2h0M667.1,280.2h0M668.25,280.2h0M669.4,280.2h0M670.55,280.2h0M671.7,280.2h0M672.85,280.2h0M674,280.2h0M675.15,280.2h0M676.3,280.2h0" stroke="#a8b6ff" stroke-width="2.0" stroke-linecap="round" fill="none"/><path d="M515.3,278.2 C517.75,278.2 525.05,278.17 530,278.2 C534.95,278.23 541.33,278.23 545,278.4 C548.67,278.57 549.92,278.67 552,279.2 C554.08,279.73 555.6,280.83 557.5,281.6 C559.4,282.37 561.45,282.87 563.4,283.8 C565.35,284.73 567.38,286.38 569.2,287.2 C571.02,288.02 572.72,289.07 574.3,288.7 C575.88,288.33 577.37,285.9 578.7,285 C580.03,284.1 580.97,283.05 582.3,283.3 C583.63,283.55 584.98,285 586.7,286.5 C588.42,288 590.77,290.83 592.6,292.3 C594.43,293.77 596,295.67 597.7,295.3 C599.4,294.93 601.22,291.68 602.8,290.1 C604.38,288.52 605.75,286.03 607.2,285.8 C608.65,285.57 609.8,287.25 611.5,288.7 C613.2,290.15 615.57,292.97 617.4,294.5 C619.23,296.03 621.17,297.77 622.5,297.9 C623.83,298.03 624.43,297.45 625.4,295.3 C626.37,293.15 627.45,288.9 628.3,285 C629.15,281.1 629.77,276.52 630.5,271.9 C631.23,267.28 631.87,262.92 632.7,257.3 C633.53,251.68 634.6,243.68 635.5,238.2 C636.4,232.72 636.98,228.73 638.1,224.4 C639.22,220.07 640.62,215.05 642.2,212.2 C643.78,209.35 645.33,207.53 647.6,207.3 C649.87,207.07 652.62,209.08 655.8,210.8 C658.98,212.52 663.28,215.55 666.7,217.6 C670.12,219.65 674.7,222.18 676.3,223.1" stroke="#222222" stroke-width="1.0" fill="none"/><path d="M515.3,278.2h0M516.45,278.2h0M517.6,278.2h0M518.75,278.19h0M519.9,278.19h0M521.05,278.19h0M522.2,278.19h0M523.35,278.19h0M524.5,278.19h0M525.65,278.19h0M526.8,278.19h0M527.95,278.19h0M529.1,278.19h0M530.25,278.2h0M531.4,278.21h0M532.55,278.21h0M533.7,278.22h0M534.85,278.23h0M536,278.23h0M537.15,278.24h0M538.3,278.25h0M539.45,278.27h0M540.6,278.28h0M541.75,278.3h0M542.9,278.33h0M544.05,278.36h0M545.2,278.41h0M546.35,278.46h0M547.5,278.53h0M548.65,278.62h0M549.8,278.75h0M550.95,278.95h0M552.1,279.23h0M553.25,279.6h0M554.4,280.11h0M555.55,280.68h0M556.7,281.25h0M557.85,281.74h0M559,282.15h0M560.15,282.54h0M561.3,282.94h0M562.45,283.38h0M563.6,283.9h0M564.75,284.54h0M565.9,285.25h0M567.05,285.99h0M568.2,286.69h0M569.35,287.27h0M570.5,287.81h0M571.65,288.32h0M572.8,288.68h0M573.95,288.76h0M575.1,288.35h0M576.25,287.4h0M577.4,286.19h0M578.55,285.11h0M579.7,284.27h0M580.85,283.53h0M582,283.27h0M583.15,283.61h0M584.3,284.39h0M585.45,285.38h0M586.6,286.41h0M587.75,287.49h0M588.9,288.67h0M590.05,289.87h0M591.2,291.04h0M592.35,292.09h0M593.5,293.06h0M594.65,294.06h0M595.8,294.88h0M596.95,295.32h0M598.1,295.16h0M599.25,294.32h0M600.4,293.02h0M601.55,291.56h0M602.7,290.2h0M603.85,288.92h0M605,287.5h0M606.15,286.33h0M607.3,285.79h0M608.45,286.05h0M609.6,286.92h0M610.75,288.02h0M611.9,289.06h0M613.05,290.17h0M614.2,291.36h0M615.35,292.55h0M616.5,293.69h0M617.65,294.71h0M618.8,295.67h0M619.95,296.59h0M621.1,297.36h0M622.25,297.86h0M623.4,297.85h0M624.55,296.91h0M625.7,294.58h0M626.85,290.96h0M628,286.35h0M629.15,280.51h0M630.3,273.18h0M631.45,265.73h0M632.6,257.97h0M633.75,249.99h0M634.9,242.04h0M636.05,234.82h0M637.2,228.34h0M638.35,223.44h0M639.5,219.29h0M640.65,215.76h0M641.8,212.98h0M642.95,210.93h0M644.1,209.35h0M645.25,208.25h0M646.4,207.6h0M647.55,207.31h0M648.7,207.35h0M649.85,207.66h0M651,208.14h0M652.15,208.74h0M653.3,209.38h0M654.45,210.05h0M655.6,210.69h0M656.75,211.33h0M657.9,212.01h0M659.05,212.73h0M660.2,213.46h0M661.35,214.2h0M662.5,214.94h0M663.65,215.69h0M664.8,216.42h0M665.95,217.14h0M667.1,217.84h0M668.25,218.52h0M669.4,219.19h0M670.55,219.85h0M671.7,220.5h0M672.85,221.15h0M674,221.8h0M675.15,222.45h0M676.3,223.1h0" stroke="#222222" stroke-width="1.9" stroke-linecap="round" fill="none"/><path d="M515.3,274.5 C516.28,274.72 519.05,276.47 521.2,275.8 C523.35,275.13 526.38,271.08 528.2,270.5 C530.02,269.92 530.68,271.88 532.1,272.3 C533.52,272.72 535.38,272.82 536.7,273 C538.02,273.18 538.23,273.65 540,273.4 C541.77,273.15 544.87,272.4 547.3,271.5 C549.73,270.6 552.23,268.83 554.6,268 C556.97,267.17 559.6,266.67 561.5,266.5 C563.4,266.33 564.72,266.72 566,267 C567.28,267.28 567.7,267.5 569.2,268.2 C570.7,268.9 573.05,269.85 575,271.2 C576.95,272.55 578.7,275.22 580.9,276.3 C583.1,277.38 585.28,277.33 588.2,277.7 C591.12,278.07 591.83,278.25 598.4,278.5 C604.97,278.75 614.62,279.03 627.6,279.2 C640.58,279.37 668.18,279.45 676.3,279.5" stroke="#f7a3a3" stroke-width="0.5" fill="none" opacity="0.6"/><path d="M515.3,274.5h0M516.45,274.94h0M517.6,275.4h0M518.75,275.76h0M519.9,275.94h0M521.05,275.84h0M522.2,275.31h0M523.35,274.44h0M524.5,273.42h0M525.65,272.35h0M526.8,271.35h0M527.95,270.6h0M529.1,270.41h0M530.25,270.99h0M531.4,271.95h0M532.55,272.42h0M533.7,272.64h0M534.85,272.79h0M536,272.91h0M537.15,273.08h0M538.3,273.39h0M539.45,273.46h0M540.6,273.3h0M541.75,273.08h0M542.9,272.82h0M544.05,272.52h0M545.2,272.2h0M546.35,271.83h0M547.5,271.42h0M548.65,270.92h0M549.8,270.35h0M550.95,269.74h0M552.1,269.13h0M553.25,268.56h0M554.4,268.07h0M555.55,267.69h0M556.7,267.36h0M557.85,267.08h0M559,266.85h0M560.15,266.66h0M561.3,266.52h0M562.45,266.46h0M563.6,266.53h0M564.75,266.72h0M565.9,266.98h0M567.05,267.28h0M568.2,267.74h0M569.35,268.27h0M570.5,268.79h0M571.65,269.32h0M572.8,269.89h0M573.95,270.53h0M575.1,271.27h0M576.25,272.24h0M577.4,273.38h0M578.55,274.54h0M579.7,275.54h0M580.85,276.27h0M582,276.75h0M583.15,277.07h0M584.3,277.27h0M585.45,277.41h0M586.6,277.52h0M587.75,277.65h0M588.9,277.79h0M590.05,277.94h0M591.2,278.07h0M592.35,278.18h0M593.5,278.26h0M594.65,278.33h0M595.8,278.39h0M596.95,278.44h0M598.1,278.49h0M599.25,278.53h0M600.4,278.57h0M601.55,278.61h0M602.7,278.65h0M603.85,278.69h0M605,278.73h0M606.15,278.76h0M607.3,278.79h0M608.45,278.82h0M609.6,278.86h0M610.75,278.89h0M611.9,278.91h0M613.05,278.94h0M614.2,278.97h0M615.35,278.99h0M616.5,279.02h0M617.65,279.04h0M618.8,279.06h0M619.95,279.08h0M621.1,279.1h0M622.25,279.12h0M623.4,279.14h0M624.55,279.16h0M625.7,279.17h0M626.85,279.19h0M628,279.2h0M629.15,279.22h0M630.3,279.23h0M631.45,279.24h0M632.6,279.25h0M633.75,279.26h0M634.9,279.27h0M636.05,279.28h0M637.2,279.29h0M638.35,279.3h0M639.5,279.31h0M640.65,279.32h0M641.8,279.33h0M642.95,279.33h0M644.1,279.34h0M645.25,279.35h0M646.4,279.35h0M647.55,279.36h0M648.7,279.37h0M649.85,279.37h0M651,279.38h0M652.15,279.39h0M653.3,279.39h0M654.45,279.4h0M655.6,279.4h0M656.75,279.41h0M657.9,279.41h0M659.05,279.42h0M660.2,279.42h0M661.35,279.43h0M662.5,279.43h0M663.65,279.44h0M664.8,279.45h0M665.95,279.45h0M667.1,279.46h0M668.25,279.46h0M669.4,279.47h0M670.55,279.47h0M671.7,279.48h0M672.85,279.48h0M674,279.49h0M675.15,279.49h0M676.3,279.5h0" stroke="#f7a3a3" stroke-width="2.0" stroke-linecap="round" fill="none"/><path d="M515.3,276 C516.42,276.08 519.72,277.08 522,276.5 C524.28,275.92 527,272.75 529,272.5 C531,272.25 532.17,274.5 534,275 C535.83,275.5 536.57,275.65 540,275.5 C543.43,275.35 549.73,274.82 554.6,274.1 C559.47,273.38 564.82,271.57 569.2,271.2 C573.58,270.83 577.73,271.53 580.9,271.9 C584.07,272.27 585.77,273.77 588.2,273.4 C590.63,273.03 593.07,270.8 595.5,269.7 C597.93,268.6 600.13,267.17 602.8,266.8 C605.47,266.43 609.07,267.75 611.5,267.5 C613.93,267.25 615.45,266.75 617.4,265.3 C619.35,263.85 621.5,260.87 623.2,258.8 C624.9,256.73 626.03,255 627.6,252.9 C629.17,250.8 631.08,246.87 632.6,246.2 C634.12,245.53 635.1,246.63 636.7,248.9 C638.3,251.17 639.93,256.4 642.2,259.8 C644.47,263.2 647.13,266.8 650.3,269.3 C653.47,271.8 656.87,273.67 661.2,274.8 C665.53,275.93 673.78,275.88 676.3,276.1" stroke="#c98cff" stroke-width="0.5" fill="none" opacity="0.6"/><path d="M515.3,276h0M516.45,276.19h0M517.6,276.4h0M518.75,276.57h0M519.9,276.67h0M521.05,276.65h0M522.2,276.44h0M523.35,275.92h0M524.5,275.18h0M525.65,274.34h0M526.8,273.52h0M527.95,272.84h0M529.1,272.49h0M530.25,272.67h0M531.4,273.35h0M532.55,274.24h0M533.7,274.9h0M534.85,275.22h0M536,275.45h0M537.15,275.54h0M538.3,275.55h0M539.45,275.52h0M540.6,275.47h0M541.75,275.41h0M542.9,275.33h0M544.05,275.24h0M545.2,275.15h0M546.35,275.05h0M547.5,274.94h0M548.65,274.83h0M549.8,274.71h0M550.95,274.58h0M552.1,274.44h0M553.25,274.29h0M554.4,274.13h0M555.55,273.95h0M556.7,273.73h0M557.85,273.5h0M559,273.24h0M560.15,272.98h0M561.3,272.7h0M562.45,272.43h0M563.6,272.17h0M564.75,271.91h0M565.9,271.68h0M567.05,271.47h0M568.2,271.31h0M569.35,271.19h0M570.5,271.12h0M571.65,271.1h0M572.8,271.11h0M573.95,271.16h0M575.1,271.24h0M576.25,271.35h0M577.4,271.47h0M578.55,271.61h0M579.7,271.75h0M580.85,271.89h0M582,272.08h0M583.15,272.38h0M584.3,272.75h0M585.45,273.12h0M586.6,273.39h0M587.75,273.45h0M588.9,273.24h0M590.05,272.81h0M591.2,272.21h0M592.35,271.52h0M593.5,270.8h0M594.65,270.13h0M595.8,269.56h0M596.95,269.01h0M598.1,268.43h0M599.25,267.89h0M600.4,267.42h0M601.55,267.05h0M602.7,266.82h0M603.85,266.74h0M605,266.8h0M606.15,266.94h0M607.3,267.12h0M608.45,267.3h0M609.6,267.46h0M610.75,267.53h0M611.9,267.46h0M613.05,267.28h0M614.2,266.99h0M615.35,266.55h0M616.5,265.92h0M617.65,265.11h0M618.8,264.05h0M619.95,262.8h0M621.1,261.42h0M622.25,259.98h0M623.4,258.55h0M624.55,257.08h0M625.7,255.52h0M626.85,253.92h0M628,252.34h0M629.15,250.55h0M630.3,248.74h0M631.45,247.18h0M632.6,246.2h0M633.75,246.04h0M634.9,246.69h0M636.05,248h0M637.2,249.7h0M638.35,252.02h0M639.5,254.6h0M640.65,257.06h0M641.8,259.17h0M642.95,260.91h0M644.1,262.54h0M645.25,264.06h0M646.4,265.47h0M647.55,266.75h0M648.7,267.91h0M649.85,268.93h0M651,269.84h0M652.15,270.67h0M653.3,271.42h0M654.45,272.1h0M655.6,272.71h0M656.75,273.25h0M657.9,273.73h0M659.05,274.15h0M660.2,274.52h0M661.35,274.84h0M662.5,275.08h0M663.65,275.27h0M664.8,275.42h0M665.95,275.54h0M667.1,275.64h0M668.25,275.72h0M669.4,275.79h0M670.55,275.85h0M671.7,275.9h0M672.85,275.94h0M674,275.98h0M675.15,276.03h0M676.3,276.1h0" stroke="#c98cff" stroke-width="2.0" stroke-linecap="round" fill="none"/><path d="M515.3,274.6 C517.45,274.08 524.08,271.7 528.2,271.5 C532.32,271.3 535.6,273.45 540,273.4 C544.4,273.35 551.27,271.68 554.6,271.2 C557.93,270.72 557.93,270.83 560,270.5 C562.07,270.17 565,270.15 567,269.2 C569,268.25 570.45,266.28 572,264.8 C573.55,263.32 574.8,260.8 576.3,260.3 C577.8,259.8 579.33,261.3 581,261.8 C582.67,262.3 584.37,263.8 586.3,263.3 C588.23,262.8 590.83,260.65 592.6,258.8 C594.37,256.95 595.67,254.08 596.9,252.2 C598.13,250.32 598.8,249.32 600,247.5 C601.2,245.68 602.55,241.9 604.1,241.3 C605.65,240.7 607.33,244.2 609.3,243.9 C611.27,243.6 613.93,242.65 615.9,239.5 C617.87,236.35 619.35,230.92 621.1,225 C622.85,219.08 624.87,210.55 626.4,204 C627.93,197.45 629.08,189.62 630.3,185.7 C631.52,181.78 632.62,180.93 633.7,180.5 C634.78,180.07 635.75,180.92 636.8,183.1 C637.85,185.28 638.88,188.07 640,193.6 C641.12,199.13 642,209.8 643.5,216.3 C645,222.8 646.95,227.62 649,232.6 C651.05,237.58 653.3,242.12 655.8,246.2 C658.3,250.28 661.28,254.15 664,257.1 C666.72,260.05 670.05,262.45 672.1,263.9 C674.15,265.35 675.6,265.48 676.3,265.8" stroke="#7a7a7a" stroke-width="0.5" fill="none" opacity="0.6"/><path d="M515.3,274.6h0M516.45,274.28h0M517.6,273.94h0M518.75,273.59h0M519.9,273.25h0M521.05,272.92h0M522.2,272.61h0M523.35,272.32h0M524.5,272.05h0M525.65,271.82h0M526.8,271.64h0M527.95,271.52h0M529.1,271.5h0M530.25,271.58h0M531.4,271.77h0M532.55,272.02h0M533.7,272.32h0M534.85,272.62h0M536,272.91h0M537.15,273.14h0M538.3,273.31h0M539.45,273.39h0M540.6,273.38h0M541.75,273.31h0M542.9,273.2h0M544.05,273.05h0M545.2,272.88h0M546.35,272.7h0M547.5,272.5h0M548.65,272.29h0M549.8,272.07h0M550.95,271.85h0M552.1,271.63h0M553.25,271.42h0M554.4,271.23h0M555.55,271.07h0M556.7,270.92h0M557.85,270.79h0M559,270.65h0M560.15,270.48h0M561.3,270.33h0M562.45,270.21h0M563.6,270.07h0M564.75,269.89h0M565.9,269.61h0M567.05,269.17h0M568.2,268.47h0M569.35,267.51h0M570.5,266.35h0M571.65,265.14h0M572.8,263.93h0M573.95,262.46h0M575.1,261.12h0M576.25,260.32h0M577.4,260.25h0M578.55,260.66h0M579.7,261.25h0M580.85,261.75h0M582,262.19h0M583.15,262.74h0M584.3,263.2h0M585.45,263.4h0M586.6,263.21h0M587.75,262.7h0M588.9,261.99h0M590.05,261.14h0M591.2,260.16h0M592.35,259.06h0M593.5,257.73h0M594.65,256.01h0M595.8,254.04h0M596.95,252.12h0M598.1,250.37h0M599.25,248.63h0M600.4,246.84h0M601.55,244.64h0M602.7,242.65h0M603.85,241.43h0M605,241.35h0M606.15,242.14h0M607.3,243.13h0M608.45,243.81h0M609.6,243.85h0M610.75,243.57h0M611.9,243.13h0M613.05,242.49h0M614.2,241.58h0M615.35,240.3h0M616.5,238.44h0M617.65,235.87h0M618.8,232.62h0M619.95,228.9h0M621.1,225h0M622.25,220.9h0M623.4,216.46h0M624.55,211.8h0M625.7,206.98h0M626.85,202h0M628,196.3h0M629.15,190.44h0M630.3,185.7h0M631.45,182.77h0M632.6,181.18h0M633.75,180.48h0M634.9,180.57h0M636.05,181.75h0M637.2,183.97h0M638.35,187.02h0M639.5,191.28h0M640.65,197.47h0M641.8,206.05h0M642.95,213.59h0M644.1,218.72h0M645.25,222.66h0M646.4,226.01h0M647.55,229.02h0M648.7,231.87h0M649.85,234.61h0M651,237.18h0M652.15,239.57h0M653.3,241.81h0M654.45,243.91h0M655.6,245.87h0M656.75,247.7h0M657.9,249.42h0M659.05,251.04h0M660.2,252.57h0M661.35,254.03h0M662.5,255.41h0M663.65,256.72h0M664.8,257.94h0M665.95,259.04h0M667.1,260.07h0M668.25,261.02h0M669.4,261.92h0M670.55,262.79h0M671.7,263.62h0M672.85,264.39h0M674,264.99h0M675.15,265.42h0M676.3,265.8h0" stroke="#7a7a7a" stroke-width="2.0" stroke-linecap="round" fill="none"/><path d="M515.3,272.3 C516.28,272.63 519.05,274.82 521.2,274.3 C523.35,273.78 526.38,269.78 528.2,269.2 C530.02,268.62 530.68,270.42 532.1,270.8 C533.52,271.18 535.38,271.32 536.7,271.5 C538.02,271.68 538.23,272.2 540,271.9 C541.77,271.6 544.87,270.67 547.3,269.7 C549.73,268.73 552.17,267.07 554.6,266.1 C557.03,265.13 559.47,264.63 561.9,263.9 C564.33,263.17 567.02,262.55 569.2,261.7 C571.38,260.85 573.05,259.17 575,258.8 C576.95,258.43 578.7,259.02 580.9,259.5 C583.1,259.98 585.28,261.1 588.2,261.7 C591.12,262.3 594.27,262.68 598.4,263.1 C602.53,263.52 608.13,263.95 613,264.2 C617.87,264.45 621.43,264.47 627.6,264.6 C633.77,264.73 641.88,264.88 650,265 C658.12,265.12 671.92,265.25 676.3,265.3" stroke="#f25656" stroke-width="1.0" fill="none"/><path d="M515.3,272.3h0M516.45,272.89h0M517.6,273.51h0M518.75,274.02h0M519.9,274.33h0M521.05,274.33h0M522.2,273.87h0M523.35,273.05h0M524.5,272.07h0M525.65,271.03h0M526.8,270.05h0M527.95,269.3h0M529.1,269.1h0M530.25,269.6h0M531.4,270.48h0M532.55,270.91h0M533.7,271.12h0M534.85,271.28h0M536,271.41h0M537.15,271.58h0M538.3,271.91h0M539.45,271.97h0M540.6,271.78h0M541.75,271.51h0M542.9,271.2h0M544.05,270.85h0M545.2,270.47h0M546.35,270.06h0M547.5,269.62h0M548.65,269.1h0M549.8,268.52h0M550.95,267.9h0M552.1,267.28h0M553.25,266.7h0M554.4,266.18h0M555.55,265.75h0M556.7,265.37h0M557.85,265.02h0M559,264.71h0M560.15,264.4h0M561.3,264.08h0M562.45,263.74h0M563.6,263.41h0M564.75,263.09h0M565.9,262.77h0M567.05,262.43h0M568.2,262.06h0M569.35,261.64h0M570.5,261.08h0M571.65,260.4h0M572.8,259.7h0M573.95,259.12h0M575.1,258.78h0M576.25,258.69h0M577.4,258.76h0M578.55,258.96h0M579.7,259.22h0M580.85,259.49h0M582,259.79h0M583.15,260.16h0M584.3,260.56h0M585.45,260.95h0M586.6,261.31h0M587.75,261.6h0M588.9,261.84h0M590.05,262.05h0M591.2,262.23h0M592.35,262.4h0M593.5,262.55h0M594.65,262.69h0M595.8,262.83h0M596.95,262.95h0M598.1,263.07h0M599.25,263.18h0M600.4,263.29h0M601.55,263.4h0M602.7,263.49h0M603.85,263.59h0M605,263.68h0M606.15,263.77h0M607.3,263.85h0M608.45,263.93h0M609.6,264h0M610.75,264.07h0M611.9,264.14h0M613.05,264.2h0M614.2,264.26h0M615.35,264.31h0M616.5,264.35h0M617.65,264.39h0M618.8,264.42h0M619.95,264.45h0M621.1,264.47h0M622.25,264.49h0M623.4,264.52h0M624.55,264.54h0M625.7,264.56h0M626.85,264.58h0M628,264.61h0M629.15,264.63h0M630.3,264.66h0M631.45,264.68h0M632.6,264.7h0M633.75,264.73h0M634.9,264.75h0M636.05,264.77h0M637.2,264.79h0M638.35,264.81h0M639.5,264.83h0M640.65,264.85h0M641.8,264.87h0M642.95,264.89h0M644.1,264.91h0M645.25,264.93h0M646.4,264.95h0M647.55,264.96h0M648.7,264.98h0M649.85,265h0M651,265.01h0M652.15,265.03h0M653.3,265.04h0M654.45,265.06h0M655.6,265.07h0M656.75,265.09h0M657.9,265.1h0M659.05,265.11h0M660.2,265.13h0M661.35,265.14h0M662.5,265.15h0M663.65,265.17h0M664.8,265.18h0M665.95,265.19h0M667.1,265.2h0M668.25,265.21h0M669.4,265.23h0M670.55,265.24h0M671.7,265.25h0M672.85,265.26h0M674,265.27h0M675.15,265.29h0M676.3,265.3h0" stroke="#f25656" stroke-width="1.9" stroke-linecap="round" fill="none"/><path d="M515.3,277.5 C516.42,277.55 519.72,278.3 522,277.8 C524.28,277.3 527,274.72 529,274.5 C531,274.28 532.17,276.08 534,276.5 C535.83,276.92 536.5,277.17 540,277 C543.5,276.83 550.13,276.1 555,275.5 C559.87,274.9 564.4,273.4 569.2,273.4 C574,273.4 578.93,274.78 583.8,275.5 C588.67,276.22 594.5,277.57 598.4,277.7 C602.3,277.83 604.28,276.17 607.2,276.3 C610.12,276.43 612.75,278.27 615.9,278.5 C619.05,278.73 623.67,278.8 626.1,277.7 C628.53,276.6 629.18,274.52 630.5,271.9 C631.82,269.28 632.75,264.9 634,262 C635.25,259.1 636.63,256.32 638,254.5 C639.37,252.68 640.37,251.9 642.2,251.1 C644.03,250.3 646.28,249.6 649,249.7 C651.72,249.8 653.95,250.7 658.5,251.7 C663.05,252.7 673.33,255.03 676.3,255.7" stroke="#7a22e2" stroke-width="1.0" fill="none"/><path d="M515.3,277.5h0M516.45,277.63h0M517.6,277.79h0M518.75,277.91h0M519.9,277.97h0M521.05,277.94h0M522.2,277.75h0M523.35,277.31h0M524.5,276.7h0M525.65,276.02h0M526.8,275.34h0M527.95,274.79h0M529.1,274.49h0M530.25,274.63h0M531.4,275.16h0M532.55,275.88h0M533.7,276.42h0M534.85,276.7h0M536,276.92h0M537.15,277.03h0M538.3,277.05h0M539.45,277.02h0M540.6,276.97h0M541.75,276.89h0M542.9,276.8h0M544.05,276.7h0M545.2,276.59h0M546.35,276.48h0M547.5,276.36h0M548.65,276.24h0M549.8,276.11h0M550.95,275.98h0M552.1,275.85h0M553.25,275.71h0M554.4,275.57h0M555.55,275.43h0M556.7,275.25h0M557.85,275.06h0M559,274.84h0M560.15,274.61h0M561.3,274.39h0M562.45,274.16h0M563.6,273.95h0M564.75,273.77h0M565.9,273.61h0M567.05,273.49h0M568.2,273.42h0M569.35,273.4h0M570.5,273.43h0M571.65,273.51h0M572.8,273.63h0M573.95,273.77h0M575.1,273.95h0M576.25,274.14h0M577.4,274.35h0M578.55,274.57h0M579.7,274.79h0M580.85,275h0M582,275.21h0M583.15,275.4h0M584.3,275.58h0M585.45,275.76h0M586.6,275.95h0M587.75,276.16h0M588.9,276.36h0M590.05,276.57h0M591.2,276.77h0M592.35,276.97h0M593.5,277.16h0M594.65,277.33h0M595.8,277.48h0M596.95,277.6h0M598.1,277.69h0M599.25,277.7h0M600.4,277.61h0M601.55,277.41h0M602.7,277.13h0M603.85,276.81h0M605,276.51h0M606.15,276.33h0M607.3,276.31h0M608.45,276.46h0M609.6,276.74h0M610.75,277.11h0M611.9,277.52h0M613.05,277.9h0M614.2,278.23h0M615.35,278.44h0M616.5,278.54h0M617.65,278.6h0M618.8,278.63h0M619.95,278.64h0M621.1,278.61h0M622.25,278.53h0M623.4,278.4h0M624.55,278.19h0M625.7,277.86h0M626.85,277.29h0M628,276.32h0M629.15,274.63h0M630.3,272.3h0M631.45,269.59h0M632.6,266.01h0M633.75,262.61h0M634.9,259.99h0M636.05,257.67h0M637.2,255.67h0M638.35,254.05h0M639.5,252.79h0M640.65,251.9h0M641.8,251.28h0M642.95,250.79h0M644.1,250.38h0M645.25,250.07h0M646.4,249.85h0M647.55,249.72h0M648.7,249.69h0M649.85,249.76h0M651,249.92h0M652.15,250.15h0M653.3,250.42h0M654.45,250.72h0M655.6,251.01h0M656.75,251.3h0M657.9,251.57h0M659.05,251.82h0M660.2,252.08h0M661.35,252.33h0M662.5,252.59h0M663.65,252.85h0M664.8,253.11h0M665.95,253.36h0M667.1,253.62h0M668.25,253.88h0M669.4,254.14h0M670.55,254.4h0M671.7,254.66h0M672.85,254.92h0M674,255.18h0M675.15,255.44h0M676.3,255.7h0" stroke="#7a22e2" stroke-width="1.9" stroke-linecap="round" fill="none"/><path d="M515.3,277.8 L676.3,277.6" stroke="#1f3cf2" stroke-width="1.0" fill="none"/><path d="M515.3,277.8h0M516.45,277.8h0M517.6,277.8h0M518.75,277.8h0M519.9,277.79h0M521.05,277.79h0M522.2,277.79h0M523.35,277.79h0M524.5,277.79h0M525.65,277.79h0M526.8,277.79h0M527.95,277.78h0M529.1,277.78h0M530.25,277.78h0M531.4,277.78h0M532.55,277.78h0M533.7,277.78h0M534.85,277.78h0M536,277.77h0M537.15,277.77h0M538.3,277.77h0M539.45,277.77h0M540.6,277.77h0M541.75,277.77h0M542.9,277.77h0M544.05,277.76h0M545.2,277.76h0M546.35,277.76h0M547.5,277.76h0M548.65,277.76h0M549.8,277.76h0M550.95,277.76h0M552.1,277.75h0M553.25,277.75h0M554.4,277.75h0M555.55,277.75h0M556.7,277.75h0M557.85,277.75h0M559,277.75h0M560.15,277.74h0M561.3,277.74h0M562.45,277.74h0M563.6,277.74h0M564.75,277.74h0M565.9,277.74h0M567.05,277.74h0M568.2,277.73h0M569.35,277.73h0M570.5,277.73h0M571.65,277.73h0M572.8,277.73h0M573.95,277.73h0M575.1,277.73h0M576.25,277.72h0M577.4,277.72h0M578.55,277.72h0M579.7,277.72h0M580.85,277.72h0M582,277.72h0M583.15,277.72h0M584.3,277.71h0M585.45,277.71h0M586.6,277.71h0M587.75,277.71h0M588.9,277.71h0M590.05,277.71h0M591.2,277.71h0M592.35,277.7h0M593.5,277.7h0M594.65,277.7h0M595.8,277.7h0M596.95,277.7h0M598.1,277.7h0M599.25,277.7h0M600.4,277.69h0M601.55,277.69h0M602.7,277.69h0M603.85,277.69h0M605,277.69h0M606.15,277.69h0M607.3,277.69h0M608.45,277.68h0M609.6,277.68h0M610.75,277.68h0M611.9,277.68h0M613.05,277.68h0M614.2,277.68h0M615.35,277.68h0M616.5,277.67h0M617.65,277.67h0M618.8,277.67h0M619.95,277.67h0M621.1,277.67h0M622.25,277.67h0M623.4,277.67h0M624.55,277.66h0M625.7,277.66h0M626.85,277.66h0M628,277.66h0M629.15,277.66h0M630.3,277.66h0M631.45,277.66h0M632.6,277.65h0M633.75,277.65h0M634.9,277.65h0M636.05,277.65h0M637.2,277.65h0M638.35,277.65h0M639.5,277.65h0M640.65,277.64h0M641.8,277.64h0M642.95,277.64h0M644.1,277.64h0M645.25,277.64h0M646.4,277.64h0M647.55,277.64h0M648.7,277.63h0M649.85,277.63h0M651,277.63h0M652.15,277.63h0M653.3,277.63h0M654.45,277.63h0M655.6,277.63h0M656.75,277.62h0M657.9,277.62h0M659.05,277.62h0M660.2,277.62h0M661.35,277.62h0M662.5,277.62h0M663.65,277.62h0M664.8,277.61h0M665.95,277.61h0M667.1,277.61h0M668.25,277.61h0M669.4,277.61h0M670.55,277.61h0M671.7,277.61h0M672.85,277.6h0M674,277.6h0M675.15,277.6h0M676.3,277.6h0" stroke="#1f3cf2" stroke-width="1.9" stroke-linecap="round" fill="none"/></g>
<rect x="515.3" y="170.5" width="160.3" height="130.2" fill="none" stroke="#222" stroke-width="1"/>
<path d="M515.3,300.7v2.3M538.2,300.7v2.3M561.1,300.7v2.3M584,300.7v2.3M606.9,300.7v2.3M629.8,300.7v2.3M652.7,300.7v2.3M675.6,300.7v2.3M526.75,300.7v1.5M549.65,300.7v1.5M572.55,300.7v1.5M595.45,300.7v1.5M618.35,300.7v1.5M641.25,300.7v1.5M664.15,300.7v1.5M515.3,300.86h-2.3M515.3,280.8h-2.3M515.3,260.74h-2.3M515.3,240.68h-2.3M515.3,220.62h-2.3M515.3,200.56h-2.3M515.3,180.5h-2.3M515.3,290.83h-1.5M515.3,270.77h-1.5M515.3,250.71h-1.5M515.3,230.65h-1.5M515.3,210.59h-1.5M515.3,190.53h-1.5" stroke="#222" stroke-width="1" fill="none"/>
<g font-size="7.9" fill="#333"><text x="515.3" y="311.7" text-anchor="middle">300</text><text x="538.2" y="311.7" text-anchor="middle">400</text><text x="561.1" y="311.7" text-anchor="middle">500</text><text x="584" y="311.7" text-anchor="middle">600</text><text x="606.9" y="311.7" text-anchor="middle">700</text><text x="629.8" y="311.7" text-anchor="middle">800</text><text x="652.7" y="311.7" text-anchor="middle">900</text><text x="675.6" y="311.7" text-anchor="middle">1000</text></g>
<g font-size="8.1" fill="#333"><text x="511.4" y="303.76" text-anchor="end">-0.2</text><text x="511.4" y="283.7" text-anchor="end">0.0</text><text x="511.4" y="263.64" text-anchor="end">0.2</text><text x="511.4" y="243.58" text-anchor="end">0.4</text><text x="511.4" y="223.52" text-anchor="end">0.6</text><text x="511.4" y="203.46" text-anchor="end">0.8</text><text x="511.4" y="183.4" text-anchor="end">1.0</text></g>
<text x="595.8" y="322.3" font-size="11.3" text-anchor="middle" fill="#222">Wavelength (nm)</text>
<text transform="translate(494.0,230.8) rotate(-90)" font-size="11.1" text-anchor="middle" fill="#222">Norm. Polarizability (a.u.)</text>
<path d="M518,179.3H532" stroke="#222222" stroke-width="1.1"/><circle cx="525" cy="179.3" r="1.2" fill="#222222"/><text x="534.6" y="181.4" font-size="8.3" fill="#222">xx-Re</text><path d="M518,189.6H532" stroke="#f25656" stroke-width="1.1"/><circle cx="525" cy="189.6" r="1.2" fill="#f25656"/><text x="534.6" y="191.7" font-size="8.3" fill="#222">yy-Re</text><path d="M518,200.2H532" stroke="#1f3cf2" stroke-width="1.1"/><circle cx="525" cy="200.2" r="1.2" fill="#1f3cf2"/><text x="534.6" y="202.3" font-size="8.3" fill="#222">zz-Re</text><path d="M518,218.1H532" stroke="#7a22e2" stroke-width="1.1"/><circle cx="525" cy="218.1" r="1.2" fill="#7a22e2"/><text x="534.6" y="220.2" font-size="8.3" fill="#222">isotropic-Re</text><path d="M518,228.5H532" stroke="#c98cff" stroke-width="0.4" opacity="0.5"/><circle cx="525" cy="228.5" r="1.1" fill="#c98cff"/><text x="534.6" y="230.6" font-size="8.3" fill="#222">isotropic-Im</text><path d="M579,178.8H594" stroke="#7a7a7a" stroke-width="0.4" opacity="0.5"/><circle cx="586.5" cy="178.8" r="1.1" fill="#7a7a7a"/><text x="596.1" y="180.9" font-size="8.3" fill="#222">xx-Im</text><path d="M579,189.2H594" stroke="#f7a3a3" stroke-width="0.4" opacity="0.5"/><circle cx="586.5" cy="189.2" r="1.1" fill="#f7a3a3"/><text x="596.1" y="191.3" font-size="8.3" fill="#222">yy-Im</text><path d="M579,199.6H594" stroke="#a8b6ff" stroke-width="0.4" opacity="0.5"/><circle cx="586.5" cy="199.6" r="1.1" fill="#a8b6ff"/><text x="596.1" y="201.7" font-size="8.3" fill="#222">zz-Im</text>
<text x="658.5" y="182.4" font-size="8.4" fill="#222">Y6</text>
<text x="466.8" y="173" font-size="16" font-weight="bold">e</text>
<clipPath id="eclip2"><rect x="515.4" y="342.4" width="160" height="130.2"/></clipPath>
<g clip-path="url(#eclip2)"><path d="M515.4,461 L676.4,461" stroke="#f7a3a3" stroke-width="0.5" fill="none" opacity="0.6"/><path d="M515.4,461h0M517.01,461h0M518.62,461h0M520.23,461h0M521.84,461h0M523.45,461h0M525.06,461h0M526.67,461h0M528.28,461h0M529.89,461h0M531.5,461h0M533.11,461h0M534.72,461h0M536.33,461h0M537.94,461h0M539.55,461h0M541.16,461h0M542.77,461h0M544.38,461h0M545.99,461h0M547.6,461h0M549.21,461h0M550.82,461h0M552.43,461h0M554.04,461h0M555.65,461h0M557.26,461h0M558.87,461h0M560.48,461h0M562.09,461h0M563.7,461h0M565.31,461h0M566.92,461h0M568.53,461h0M570.14,461h0M571.75,461h0M573.36,461h0M574.97,461h0M576.58,461h0M578.19,461h0M579.8,461h0M581.41,461h0M583.02,461h0M584.63,461h0M586.24,461h0M587.85,461h0M589.46,461h0M591.07,461h0M592.68,461h0M594.29,461h0M595.9,461h0M597.51,461h0M599.12,461h0M600.73,461h0M602.34,461h0M603.95,461h0M605.56,461h0M607.17,461h0M608.78,461h0M610.39,461h0M612,461h0M613.61,461h0M615.22,461h0M616.83,461h0M618.44,461h0M620.05,461h0M621.66,461h0M623.27,461h0M624.88,461h0M626.49,461h0M628.1,461h0M629.71,461h0M631.32,461h0M632.93,461h0M634.54,461h0M636.15,461h0M637.76,461h0M639.37,461h0M640.98,461h0M642.59,461h0M644.2,461h0M645.81,461h0M647.42,461h0M649.03,461h0M650.64,461h0M652.25,461h0M653.86,461h0M655.47,461h0M657.08,461h0M658.69,461h0M660.3,461h0M661.91,461h0M663.52,461h0M665.13,461h0M666.74,461h0M668.35,461h0M669.96,461h0M671.57,461h0M673.18,461h0M674.79,461h0M676.4,461h0" stroke="#f7a3a3" stroke-width="2.0" stroke-linecap="round" fill="none"/><path d="M515.4,461.4 L676.4,461.4" stroke="#a8b6ff" stroke-width="0.5" fill="none" opacity="0.6"/><path d="M515.4,461.4h0M517.01,461.4h0M518.62,461.4h0M520.23,461.4h0M521.84,461.4h0M523.45,461.4h0M525.06,461.4h0M526.67,461.4h0M528.28,461.4h0M529.89,461.4h0M531.5,461.4h0M533.11,461.4h0M534.72,461.4h0M536.33,461.4h0M537.94,461.4h0M539.55,461.4h0M541.16,461.4h0M542.77,461.4h0M544.38,461.4h0M545.99,461.4h0M547.6,461.4h0M549.21,461.4h0M550.82,461.4h0M552.43,461.4h0M554.04,461.4h0M555.65,461.4h0M557.26,461.4h0M558.87,461.4h0M560.48,461.4h0M562.09,461.4h0M563.7,461.4h0M565.31,461.4h0M566.92,461.4h0M568.53,461.4h0M570.14,461.4h0M571.75,461.4h0M573.36,461.4h0M574.97,461.4h0M576.58,461.4h0M578.19,461.4h0M579.8,461.4h0M581.41,461.4h0M583.02,461.4h0M584.63,461.4h0M586.24,461.4h0M587.85,461.4h0M589.46,461.4h0M591.07,461.4h0M592.68,461.4h0M594.29,461.4h0M595.9,461.4h0M597.51,461.4h0M599.12,461.4h0M600.73,461.4h0M602.34,461.4h0M603.95,461.4h0M605.56,461.4h0M607.17,461.4h0M608.78,461.4h0M610.39,461.4h0M612,461.4h0M613.61,461.4h0M615.22,461.4h0M616.83,461.4h0M618.44,461.4h0M620.05,461.4h0M621.66,461.4h0M623.27,461.4h0M624.88,461.4h0M626.49,461.4h0M628.1,461.4h0M629.71,461.4h0M631.32,461.4h0M632.93,461.4h0M634.54,461.4h0M636.15,461.4h0M637.76,461.4h0M639.37,461.4h0M640.98,461.4h0M642.59,461.4h0M644.2,461.4h0M645.81,461.4h0M647.42,461.4h0M649.03,461.4h0M650.64,461.4h0M652.25,461.4h0M653.86,461.4h0M655.47,461.4h0M657.08,461.4h0M658.69,461.4h0M660.3,461.4h0M661.91,461.4h0M663.52,461.4h0M665.13,461.4h0M666.74,461.4h0M668.35,461.4h0M669.96,461.4h0M671.57,461.4h0M673.18,461.4h0M674.79,461.4h0M676.4,461.4h0" stroke="#a8b6ff" stroke-width="2.0" stroke-linecap="round" fill="none"/><path d="M515.4,451.6 C516.7,450.92 520.55,449.32 523.2,447.5 C525.85,445.68 529.03,441.6 531.3,440.7 C533.57,439.8 534.98,442.78 536.8,442.1 C538.62,441.42 540.38,438.42 542.2,436.6 C544.02,434.78 545.88,431.65 547.7,431.2 C549.52,430.75 551.3,433.45 553.1,433.9 C554.9,434.35 556.68,432.77 558.5,433.9 C560.32,435.03 562.18,438.43 564,440.7 C565.82,442.97 567.13,445.23 569.4,447.5 C571.67,449.77 574.42,452.72 577.6,454.3 C580.78,455.88 582.73,456.08 588.5,457 C594.27,457.92 597.55,459.12 612.2,459.8 C626.85,460.48 665.7,460.88 676.4,461.1" stroke="#c98cff" stroke-width="0.5" fill="none" opacity="0.6"/><path d="M515.4,451.6h0M517.01,450.83h0M518.62,450.06h0M520.23,449.25h0M521.84,448.36h0M523.45,447.32h0M525.06,445.98h0M526.67,444.46h0M528.28,442.92h0M529.89,441.54h0M531.5,440.64h0M533.11,440.72h0M534.72,441.64h0M536.33,442.2h0M537.94,441.39h0M539.55,439.71h0M541.16,437.75h0M542.77,435.99h0M544.38,434.07h0M545.99,432.28h0M547.6,431.23h0M549.21,431.44h0M550.82,432.53h0M552.43,433.64h0M554.04,433.97h0M555.65,433.68h0M557.26,433.5h0M558.87,434.16h0M560.48,435.85h0M562.09,438.07h0M563.7,440.32h0M565.31,442.43h0M566.92,444.62h0M568.53,446.58h0M570.14,448.24h0M571.75,449.84h0M573.36,451.33h0M574.97,452.65h0M576.58,453.74h0M578.19,454.58h0M579.8,455.25h0M581.41,455.74h0M583.02,456.1h0M584.63,456.38h0M586.24,456.64h0M587.85,456.9h0M589.46,457.16h0M591.07,457.45h0M592.68,457.75h0M594.29,458.04h0M595.9,458.31h0M597.51,458.56h0M599.12,458.77h0M600.73,458.96h0M602.34,459.13h0M603.95,459.27h0M605.56,459.4h0M607.17,459.52h0M608.78,459.62h0M610.39,459.71h0M612,459.79h0M613.61,459.86h0M615.22,459.92h0M616.83,459.98h0M618.44,460.03h0M620.05,460.08h0M621.66,460.13h0M623.27,460.17h0M624.88,460.21h0M626.49,460.25h0M628.1,460.29h0M629.71,460.32h0M631.32,460.36h0M632.93,460.39h0M634.54,460.42h0M636.15,460.45h0M637.76,460.48h0M639.37,460.51h0M640.98,460.54h0M642.59,460.57h0M644.2,460.6h0M645.81,460.63h0M647.42,460.65h0M649.03,460.68h0M650.64,460.7h0M652.25,460.73h0M653.86,460.75h0M655.47,460.78h0M657.08,460.8h0M658.69,460.82h0M660.3,460.85h0M661.91,460.87h0M663.52,460.9h0M665.13,460.92h0M666.74,460.94h0M668.35,460.97h0M669.96,460.99h0M671.57,461.02h0M673.18,461.04h0M674.79,461.07h0M676.4,461.1h0" stroke="#c98cff" stroke-width="2.0" stroke-linecap="round" fill="none"/><path d="M515.4,431.2 C516.02,429.15 517.58,423.67 519.1,418.9 C520.62,414.13 522.92,406.22 524.5,402.6 C526.08,398.98 527.23,396.75 528.6,397.2 C529.97,397.65 531.33,404.4 532.7,405.3 C534.07,406.2 535.43,405.55 536.8,402.6 C538.17,399.65 539.53,392.58 540.9,387.6 C542.27,382.62 543.87,375.87 545,372.7 C546.13,369.53 546.58,368.15 547.7,368.6 C548.82,369.05 550.35,373.13 551.7,375.4 C553.05,377.67 554.43,381.75 555.8,382.2 C557.17,382.65 558.53,376.07 559.9,378.1 C561.27,380.13 562.63,388.5 564,394.4 C565.37,400.3 566.73,408.05 568.1,413.5 C569.47,418.95 570.38,422.8 572.2,427.1 C574.02,431.4 576.52,435.9 579,439.3 C581.48,442.7 583.83,445 587.1,447.5 C590.37,450 594.42,452.72 598.6,454.3 C602.78,455.88 605.4,456.22 612.2,457 C619,457.78 628.7,458.53 639.4,459 C650.1,459.47 670.23,459.67 676.4,459.8" stroke="#7a7a7a" stroke-width="0.5" fill="none" opacity="0.6"/><path d="M515.4,431.2h0M517.01,425.74h0M518.62,420.43h0M520.23,415.27h0M521.84,410.12h0M523.45,405.3h0M525.06,401.34h0M526.67,398.32h0M528.28,397.15h0M529.89,399.12h0M531.5,403.31h0M533.11,405.52h0M534.72,405.41h0M536.33,403.52h0M537.94,399.31h0M539.55,392.98h0M541.16,386.64h0M542.77,380.49h0M544.38,374.62h0M545.99,370.05h0M547.6,368.57h0M549.21,370.55h0M550.82,373.76h0M552.43,376.77h0M554.04,380.05h0M555.65,382.13h0M557.26,380.71h0M558.87,377.95h0M560.48,379.32h0M562.09,385.44h0M563.7,393.07h0M565.31,400.49h0M566.92,408.32h0M568.53,415.22h0M570.14,421.27h0M571.75,426h0M573.36,429.68h0M574.97,432.84h0M576.58,435.65h0M578.19,438.15h0M579.8,440.36h0M581.41,442.3h0M583.02,444h0M584.63,445.49h0M586.24,446.83h0M587.85,448.07h0M589.46,449.23h0M591.07,450.33h0M592.68,451.35h0M594.29,452.28h0M595.9,453.12h0M597.51,453.86h0M599.12,454.49h0M600.73,455.04h0M602.34,455.49h0M603.95,455.86h0M605.56,456.15h0M607.17,456.39h0M608.78,456.6h0M610.39,456.79h0M612,456.98h0M613.61,457.16h0M615.22,457.33h0M616.83,457.48h0M618.44,457.63h0M620.05,457.78h0M621.66,457.91h0M623.27,458.04h0M624.88,458.16h0M626.49,458.27h0M628.1,458.38h0M629.71,458.49h0M631.32,458.58h0M632.93,458.68h0M634.54,458.77h0M636.15,458.85h0M637.76,458.93h0M639.37,459h0M640.98,459.06h0M642.59,459.12h0M644.2,459.17h0M645.81,459.22h0M647.42,459.27h0M649.03,459.31h0M650.64,459.35h0M652.25,459.38h0M653.86,459.42h0M655.47,459.45h0M657.08,459.48h0M658.69,459.51h0M660.3,459.54h0M661.91,459.56h0M663.52,459.59h0M665.13,459.62h0M666.74,459.64h0M668.35,459.67h0M669.96,459.69h0M671.57,459.72h0M673.18,459.74h0M674.79,459.77h0M676.4,459.8h0" stroke="#7a7a7a" stroke-width="2.0" stroke-linecap="round" fill="none"/><path d="M515.4,427.1 L676.4,429.8" stroke="#f25656" stroke-width="1.0" fill="none"/><path d="M515.4,427.1h0M517.01,427.13h0M518.62,427.15h0M520.23,427.18h0M521.84,427.21h0M523.45,427.24h0M525.06,427.26h0M526.67,427.29h0M528.28,427.32h0M529.89,427.34h0M531.5,427.37h0M533.11,427.4h0M534.72,427.42h0M536.33,427.45h0M537.94,427.48h0M539.55,427.5h0M541.16,427.53h0M542.77,427.56h0M544.38,427.59h0M545.99,427.61h0M547.6,427.64h0M549.21,427.67h0M550.82,427.69h0M552.43,427.72h0M554.04,427.75h0M555.65,427.78h0M557.26,427.8h0M558.87,427.83h0M560.48,427.86h0M562.09,427.88h0M563.7,427.91h0M565.31,427.94h0M566.92,427.96h0M568.53,427.99h0M570.14,428.02h0M571.75,428.05h0M573.36,428.07h0M574.97,428.1h0M576.58,428.13h0M578.19,428.15h0M579.8,428.18h0M581.41,428.21h0M583.02,428.23h0M584.63,428.26h0M586.24,428.29h0M587.85,428.31h0M589.46,428.34h0M591.07,428.37h0M592.68,428.4h0M594.29,428.42h0M595.9,428.45h0M597.51,428.48h0M599.12,428.5h0M600.73,428.53h0M602.34,428.56h0M603.95,428.59h0M605.56,428.61h0M607.17,428.64h0M608.78,428.67h0M610.39,428.69h0M612,428.72h0M613.61,428.75h0M615.22,428.77h0M616.83,428.8h0M618.44,428.83h0M620.05,428.86h0M621.66,428.88h0M623.27,428.91h0M624.88,428.94h0M626.49,428.96h0M628.1,428.99h0M629.71,429.02h0M631.32,429.04h0M632.93,429.07h0M634.54,429.1h0M636.15,429.12h0M637.76,429.15h0M639.37,429.18h0M640.98,429.21h0M642.59,429.23h0M644.2,429.26h0M645.81,429.29h0M647.42,429.31h0M649.03,429.34h0M650.64,429.37h0M652.25,429.4h0M653.86,429.42h0M655.47,429.45h0M657.08,429.48h0M658.69,429.5h0M660.3,429.53h0M661.91,429.56h0M663.52,429.58h0M665.13,429.61h0M666.74,429.64h0M668.35,429.67h0M669.96,429.69h0M671.57,429.72h0M673.18,429.75h0M674.79,429.77h0M676.4,429.8h0" stroke="#f25656" stroke-width="1.9" stroke-linecap="round" fill="none"/><path d="M515.4,447.5 L676.4,447.5" stroke="#1f3cf2" stroke-width="1.0" fill="none"/><path d="M515.4,447.5h0M517.01,447.5h0M518.62,447.5h0M520.23,447.5h0M521.84,447.5h0M523.45,447.5h0M525.06,447.5h0M526.67,447.5h0M528.28,447.5h0M529.89,447.5h0M531.5,447.5h0M533.11,447.5h0M534.72,447.5h0M536.33,447.5h0M537.94,447.5h0M539.55,447.5h0M541.16,447.5h0M542.77,447.5h0M544.38,447.5h0M545.99,447.5h0M547.6,447.5h0M549.21,447.5h0M550.82,447.5h0M552.43,447.5h0M554.04,447.5h0M555.65,447.5h0M557.26,447.5h0M558.87,447.5h0M560.48,447.5h0M562.09,447.5h0M563.7,447.5h0M565.31,447.5h0M566.92,447.5h0M568.53,447.5h0M570.14,447.5h0M571.75,447.5h0M573.36,447.5h0M574.97,447.5h0M576.58,447.5h0M578.19,447.5h0M579.8,447.5h0M581.41,447.5h0M583.02,447.5h0M584.63,447.5h0M586.24,447.5h0M587.85,447.5h0M589.46,447.5h0M591.07,447.5h0M592.68,447.5h0M594.29,447.5h0M595.9,447.5h0M597.51,447.5h0M599.12,447.5h0M600.73,447.5h0M602.34,447.5h0M603.95,447.5h0M605.56,447.5h0M607.17,447.5h0M608.78,447.5h0M610.39,447.5h0M612,447.5h0M613.61,447.5h0M615.22,447.5h0M616.83,447.5h0M618.44,447.5h0M620.05,447.5h0M621.66,447.5h0M623.27,447.5h0M624.88,447.5h0M626.49,447.5h0M628.1,447.5h0M629.71,447.5h0M631.32,447.5h0M632.93,447.5h0M634.54,447.5h0M636.15,447.5h0M637.76,447.5h0M639.37,447.5h0M640.98,447.5h0M642.59,447.5h0M644.2,447.5h0M645.81,447.5h0M647.42,447.5h0M649.03,447.5h0M650.64,447.5h0M652.25,447.5h0M653.86,447.5h0M655.47,447.5h0M657.08,447.5h0M658.69,447.5h0M660.3,447.5h0M661.91,447.5h0M663.52,447.5h0M665.13,447.5h0M666.74,447.5h0M668.35,447.5h0M669.96,447.5h0M671.57,447.5h0M673.18,447.5h0M674.79,447.5h0M676.4,447.5h0" stroke="#1f3cf2" stroke-width="1.9" stroke-linecap="round" fill="none"/><path d="M515.4,440.7 C516.23,441.15 518.65,443.17 520.4,443.4 C522.15,443.63 524.08,443.23 525.9,442.1 C527.72,440.97 529.48,437.07 531.3,436.6 C533.12,436.13 534.98,439.52 536.8,439.3 C538.62,439.08 540.38,436.88 542.2,435.3 C544.02,433.72 545.43,432.07 547.7,429.8 C549.97,427.53 553.32,424.42 555.8,421.7 C558.28,418.98 560.55,415.55 562.6,413.5 C564.65,411.45 565.6,409.4 568.1,409.4 C570.6,409.4 574.2,412.13 577.6,413.5 C581,414.87 585,416.47 588.5,417.6 C592,418.73 594.65,419.53 598.6,420.3 C602.55,421.07 605.4,421.52 612.2,422.2 C619,422.88 628.7,423.67 639.4,424.4 C650.1,425.13 670.23,426.23 676.4,426.6" stroke="#7a22e2" stroke-width="1.0" fill="none"/><path d="M515.4,440.7h0M517.01,441.77h0M518.62,442.75h0M520.23,443.37h0M521.84,443.45h0M523.45,443.18h0M525.06,442.57h0M526.67,441.47h0M528.28,439.52h0M529.89,437.55h0M531.5,436.57h0M533.11,437.13h0M534.72,438.4h0M536.33,439.28h0M537.94,438.92h0M539.55,437.77h0M541.16,436.26h0M542.77,434.79h0M544.38,433.22h0M545.99,431.55h0M547.6,429.9h0M549.21,428.31h0M550.82,426.75h0M552.43,425.17h0M554.04,423.55h0M555.65,421.86h0M557.26,420.01h0M558.87,417.98h0M560.48,415.93h0M562.09,414.03h0M563.7,412.31h0M565.31,410.56h0M566.92,409.58h0M568.53,409.43h0M570.14,409.84h0M571.75,410.55h0M573.36,411.39h0M574.97,412.25h0M576.58,413.06h0M578.19,413.74h0M579.8,414.38h0M581.41,415.02h0M583.02,415.64h0M584.63,416.25h0M586.24,416.83h0M587.85,417.39h0M589.46,417.91h0M591.07,418.41h0M592.68,418.89h0M594.29,419.33h0M595.9,419.73h0M597.51,420.08h0M599.12,420.4h0M600.73,420.7h0M602.34,420.98h0M603.95,421.23h0M605.56,421.45h0M607.17,421.65h0M608.78,421.84h0M610.39,422.01h0M612,422.18h0M613.61,422.34h0M615.22,422.49h0M616.83,422.64h0M618.44,422.78h0M620.05,422.92h0M621.66,423.06h0M623.27,423.19h0M624.88,423.32h0M626.49,423.45h0M628.1,423.58h0M629.71,423.7h0M631.32,423.82h0M632.93,423.94h0M634.54,424.06h0M636.15,424.17h0M637.76,424.29h0M639.37,424.4h0M640.98,424.51h0M642.59,424.61h0M644.2,424.71h0M645.81,424.82h0M647.42,424.92h0M649.03,425.01h0M650.64,425.11h0M652.25,425.21h0M653.86,425.3h0M655.47,425.4h0M657.08,425.49h0M658.69,425.58h0M660.3,425.68h0M661.91,425.77h0M663.52,425.86h0M665.13,425.95h0M666.74,426.05h0M668.35,426.14h0M669.96,426.23h0M671.57,426.32h0M673.18,426.41h0M674.79,426.51h0M676.4,426.6h0" stroke="#7a22e2" stroke-width="1.9" stroke-linecap="round" fill="none"/><path d="M515.4,446.2 C515.78,447.1 516.63,449.8 517.7,451.6 C518.77,453.4 520.43,456 521.8,457 C523.17,458 524.77,458.5 525.9,457.6 C527.03,456.7 527.7,454.87 528.6,451.6 C529.5,448.33 530.38,440.5 531.3,438 C532.22,435.5 533.18,436.15 534.1,436.6 C535.02,437.05 535.67,439.57 536.8,440.7 C537.93,441.83 539.77,443.4 540.9,443.4 C542.03,443.4 542.7,443.42 543.6,440.7 C544.5,437.98 545.4,433 546.3,427.1 C547.2,421.2 548.1,409.83 549,405.3 C549.9,400.77 550.57,401.93 551.7,399.9 C552.83,397.87 554.67,396.28 555.8,393.1 C556.93,389.92 557.58,384.2 558.5,380.8 C559.42,377.4 560.38,375.87 561.3,372.7 C562.22,369.53 562.87,365.22 564,361.8 C565.13,358.38 566.73,353.33 568.1,352.2 C569.47,351.07 570.62,353.4 572.2,355 C573.78,356.6 575.38,359.13 577.6,361.8 C579.82,364.47 582,367.38 585.5,371 C589,374.62 594.15,380.5 598.6,383.5 C603.05,386.5 607.67,387.4 612.2,389 C616.73,390.6 621.27,391.97 625.8,393.1 C630.33,394.23 634.4,394.9 639.4,395.8 C644.4,396.7 649.63,397.73 655.8,398.5 C661.97,399.27 672.97,400.08 676.4,400.4" stroke="#222222" stroke-width="1.0" fill="none"/><path d="M515.4,446.2h0M517.01,450.26h0M518.62,453.1h0M520.23,455.38h0M521.84,457.03h0M523.45,457.88h0M525.06,458.01h0M526.67,456.75h0M528.28,452.73h0M529.89,444.83h0M531.5,437.51h0M533.11,436.2h0M534.72,437.23h0M536.33,440.12h0M537.94,441.76h0M539.55,442.93h0M541.16,443.4h0M542.77,442.58h0M544.38,437.81h0M545.99,429.09h0M547.6,416.15h0M549.21,404.33h0M550.82,401.07h0M552.43,398.75h0M554.04,396.51h0M555.65,393.5h0M557.26,386.88h0M558.87,379.53h0M560.48,375.16h0M562.09,369.52h0M563.7,362.76h0M565.31,357.91h0M566.92,353.94h0M568.53,351.95h0M570.14,352.65h0M571.75,354.52h0M573.36,356.31h0M574.97,358.41h0M576.58,360.53h0M578.19,362.52h0M579.8,364.5h0M581.41,366.45h0M583.02,368.32h0M584.63,370.09h0M586.24,371.77h0M587.85,373.48h0M589.46,375.18h0M591.07,376.85h0M592.68,378.46h0M594.29,379.99h0M595.9,381.42h0M597.51,382.72h0M599.12,383.84h0M600.73,384.78h0M602.34,385.57h0M603.95,386.25h0M605.56,386.84h0M607.17,387.38h0M608.78,387.88h0M610.39,388.39h0M612,388.93h0M613.61,389.49h0M615.22,390.03h0M616.83,390.55h0M618.44,391.05h0M620.05,391.54h0M621.66,392h0M623.27,392.44h0M624.88,392.87h0M626.49,393.27h0M628.1,393.65h0M629.71,394h0M631.32,394.32h0M632.93,394.63h0M634.54,394.93h0M636.15,395.22h0M637.76,395.51h0M639.37,395.79h0M640.98,396.09h0M642.59,396.38h0M644.2,396.67h0M645.81,396.96h0M647.42,397.24h0M649.03,397.51h0M650.64,397.77h0M652.25,398.02h0M653.86,398.25h0M655.47,398.46h0M657.08,398.65h0M658.69,398.83h0M660.3,398.99h0M661.91,399.15h0M663.52,399.3h0M665.13,399.44h0M666.74,399.59h0M668.35,399.72h0M669.96,399.86h0M671.57,399.99h0M673.18,400.13h0M674.79,400.26h0M676.4,400.4h0" stroke="#222222" stroke-width="1.9" stroke-linecap="round" fill="none"/></g>
<rect x="515.4" y="342.4" width="160" height="130.2" fill="none" stroke="#222" stroke-width="1"/>
<path d="M515.4,472.6v2.3M547.4,472.6v2.3M579.4,472.6v2.3M611.4,472.6v2.3M643.4,472.6v2.3M675.4,472.6v2.3M531.4,472.6v1.5M563.4,472.6v1.5M595.4,472.6v1.5M627.4,472.6v1.5M659.4,472.6v1.5M515.4,461.7h-2.3M515.4,440.02h-2.3M515.4,418.34h-2.3M515.4,396.66h-2.3M515.4,374.98h-2.3M515.4,353.3h-2.3M515.4,472.54h-1.5M515.4,450.86h-1.5M515.4,429.18h-1.5M515.4,407.5h-1.5M515.4,385.82h-1.5M515.4,364.14h-1.5" stroke="#222" stroke-width="1" fill="none"/>
<g font-size="7.9" fill="#333"><text x="515.4" y="482.7" text-anchor="middle">400</text><text x="547.4" y="482.7" text-anchor="middle">500</text><text x="579.4" y="482.7" text-anchor="middle">600</text><text x="611.4" y="482.7" text-anchor="middle">700</text><text x="643.4" y="482.7" text-anchor="middle">800</text><text x="675.4" y="482.7" text-anchor="middle">900</text></g>
<g font-size="8.1" fill="#333"><text x="511.4" y="464.6" text-anchor="end">0.0</text><text x="511.4" y="442.92" text-anchor="end">0.2</text><text x="511.4" y="421.24" text-anchor="end">0.4</text><text x="511.4" y="399.56" text-anchor="end">0.6</text><text x="511.4" y="377.88" text-anchor="end">0.8</text><text x="511.4" y="356.2" text-anchor="end">1.0</text></g>
<text x="595.4" y="492.8" font-size="11.3" text-anchor="middle" fill="#222">Wavelength (nm)</text>
<text transform="translate(495.8,402) rotate(-90)" font-size="11.25" text-anchor="middle" fill="#222">Norm. Polarizability (a.u.)</text>
<path d="M597.2,348.2H608.1" stroke="#222222" stroke-width="1.1"/><circle cx="602.65" cy="348.2" r="1.2" fill="#222222"/><text x="610.9" y="350.3" font-size="8.3" fill="#222">xx-Re</text><path d="M597.2,357.7H608.1" stroke="#f25656" stroke-width="1.1"/><circle cx="602.65" cy="357.7" r="1.2" fill="#f25656"/><text x="610.9" y="359.8" font-size="8.3" fill="#222">yy-Re</text><path d="M597.2,367.3H608.1" stroke="#1f3cf2" stroke-width="1.1"/><circle cx="602.65" cy="367.3" r="1.2" fill="#1f3cf2"/><text x="610.9" y="369.4" font-size="8.3" fill="#222">zz-Re</text><path d="M640,348.2H650.4" stroke="#7a7a7a" stroke-width="0.4" opacity="0.5"/><circle cx="645.2" cy="348.2" r="1.1" fill="#7a7a7a"/><text x="653.7" y="350.3" font-size="8.3" fill="#222">xx-Im</text><path d="M640,357.7H650.4" stroke="#f7a3a3" stroke-width="0.4" opacity="0.5"/><circle cx="645.2" cy="357.7" r="1.1" fill="#f7a3a3"/><text x="653.7" y="359.8" font-size="8.3" fill="#222">yy-Im</text><path d="M640,367.3H650.4" stroke="#a8b6ff" stroke-width="0.4" opacity="0.5"/><circle cx="645.2" cy="367.3" r="1.1" fill="#a8b6ff"/><text x="653.7" y="369.4" font-size="8.3" fill="#222">zz-Im</text><path d="M618.3,376.6H628.8" stroke="#7a22e2" stroke-width="1.1"/><circle cx="623.55" cy="376.6" r="1.2" fill="#7a22e2"/><text x="631" y="378.7" font-size="8.3" fill="#222">isotropic-Re</text><path d="M618.3,386.4H628.8" stroke="#c98cff" stroke-width="0.4" opacity="0.5"/><circle cx="623.55" cy="386.4" r="1.1" fill="#c98cff"/><text x="631" y="388.5" font-size="8.3" fill="#222">isotropic-Im</text>
<text x="521.7" y="354.6" font-size="8.2" fill="#222">P3HT (14)</text>
</svg>
</body></html>
